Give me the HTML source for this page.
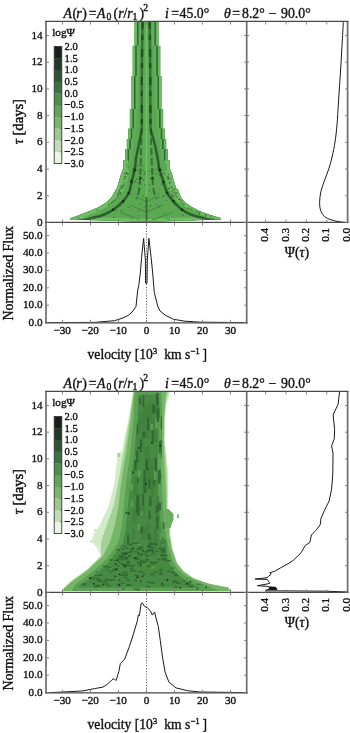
<!DOCTYPE html>
<html><head><meta charset="utf-8"><style>
html,body{margin:0;padding:0;background:#fff;width:350px;height:733px;overflow:hidden}
svg text{fill:#111;font-family:"Liberation Serif", serif}
</style></head><body>
<svg width="350" height="733" viewBox="0 0 350 733" style="display:block;will-change:transform">
<defs><clipPath id="clipmain0"><rect x="46.5" y="21.5" width="200.0" height="201.0"/></clipPath><clipPath id="clipright0"><rect x="246.5" y="21.5" width="101.0" height="201.0"/></clipPath><clipPath id="clipflux0"><rect x="46.5" y="222.5" width="200.0" height="100.30000000000001"/></clipPath><clipPath id="clipmain370"><rect x="46.5" y="391.5" width="200.0" height="201.0"/></clipPath><clipPath id="clipright370"><rect x="246.5" y="391.5" width="101.0" height="201.0"/></clipPath><clipPath id="clipflux370"><rect x="46.5" y="592.5" width="200.0" height="100.30000000000001"/></clipPath></defs>
<rect width="350" height="733" fill="#fff"/>
<g clip-path="url(#clipmain0)">
<clipPath id="envt0"><path d="M134.4,21.0 L134.4,45.7 L132.6,45.7 L132.6,76.0 L131.4,76.0 L131.4,109.0 L129.8,109.0 L129.8,128.5 L128.2,128.5 L128.2,139.0 L126.7,139.0 L126.7,149.0 L125.0,149.0 L125.0,160.6 L123.0,160.6 L123.0,169.0 L121.0,174.3 L119.0,181.1 L117.0,188.0 L115.7,190.0 L111.0,197.9 L106.2,202.6 L98.4,207.3 L89.0,211.2 L78.7,215.2 L70.9,218.0 L70.0,219.5 L146.5,222.0 L221.0,219.5 L220.6,218.0 L211.2,215.2 L200.2,211.2 L192.3,207.3 L185.2,202.6 L181.3,197.9 L178.1,190.0 L176.1,188.0 L173.9,181.1 L172.1,174.3 L170.0,169.0 L170.0,160.6 L168.0,160.6 L168.0,149.0 L166.3,149.0 L166.3,139.0 L164.8,139.0 L164.8,128.5 L163.2,128.5 L163.2,109.0 L161.6,109.0 L161.6,76.0 L160.4,76.0 L160.4,45.7 L158.6,45.7 L158.6,21.0Z"/></clipPath>
<path d="M134.4,21.0 L134.4,45.7 L132.6,45.7 L132.6,76.0 L131.4,76.0 L131.4,109.0 L129.8,109.0 L129.8,128.5 L128.2,128.5 L128.2,139.0 L126.7,139.0 L126.7,149.0 L125.0,149.0 L125.0,160.6 L123.0,160.6 L123.0,169.0 L121.0,174.3 L119.0,181.1 L117.0,188.0 L115.7,190.0 L111.0,197.9 L106.2,202.6 L98.4,207.3 L89.0,211.2 L78.7,215.2 L70.9,218.0 L70.0,219.5 L146.5,222.0 L221.0,219.5 L220.6,218.0 L211.2,215.2 L200.2,211.2 L192.3,207.3 L185.2,202.6 L181.3,197.9 L178.1,190.0 L176.1,188.0 L173.9,181.1 L172.1,174.3 L170.0,169.0 L170.0,160.6 L168.0,160.6 L168.0,149.0 L166.3,149.0 L166.3,139.0 L164.8,139.0 L164.8,128.5 L163.2,128.5 L163.2,109.0 L161.6,109.0 L161.6,76.0 L160.4,76.0 L160.4,45.7 L158.6,45.7 L158.6,21.0Z" fill="#5aa952"/>
<g clip-path="url(#envt0)">
<path d="M163.0,168.0 L165.0,178.0 L169.0,190.0 L178.0,203.0 L195.0,212.0 L215.0,219.0 L230.0,224.0 L240.0,224.0 L240.0,160.0Z" fill="#6bb861" />
<path d="M130.0,168.0 L128.0,178.0 L124.0,190.0 L115.0,203.0 L98.0,212.0 L78.0,219.0 L63.0,224.0 L53.0,224.0 L53.0,160.0Z" fill="#6bb861" />
<clipPath id="wingclip0"><rect x="40" y="160" width="210" height="70"/></clipPath>
<g clip-path="url(#wingclip0)">
<path d="M134.4,21.0 L134.4,45.7 L132.6,45.7 L132.6,76.0 L131.4,76.0 L131.4,109.0 L129.8,109.0 L129.8,128.5 L128.2,128.5 L128.2,139.0 L126.7,139.0 L126.7,149.0 L125.0,149.0 L125.0,160.6 L123.0,160.6 L123.0,169.0 L121.0,174.3 L119.0,181.1 L117.0,188.0 L115.7,190.0 L111.0,197.9 L106.2,202.6 L98.4,207.3 L89.0,211.2 L78.7,215.2 L70.9,218.0 L70.0,219.5 L146.5,222.0 L221.0,219.5 L220.6,218.0 L211.2,215.2 L200.2,211.2 L192.3,207.3 L185.2,202.6 L181.3,197.9 L178.1,190.0 L176.1,188.0 L173.9,181.1 L172.1,174.3 L170.0,169.0 L170.0,160.6 L168.0,160.6 L168.0,149.0 L166.3,149.0 L166.3,139.0 L164.8,139.0 L164.8,128.5 L163.2,128.5 L163.2,109.0 L161.6,109.0 L161.6,76.0 L160.4,76.0 L160.4,45.7 L158.6,45.7 L158.6,21.0Z" fill="none" stroke="#72bd67" stroke-width="6"/>
<path d="M134.4,21.0 L134.4,45.7 L132.6,45.7 L132.6,76.0 L131.4,76.0 L131.4,109.0 L129.8,109.0 L129.8,128.5 L128.2,128.5 L128.2,139.0 L126.7,139.0 L126.7,149.0 L125.0,149.0 L125.0,160.6 L123.0,160.6 L123.0,169.0 L121.0,174.3 L119.0,181.1 L117.0,188.0 L115.7,190.0 L111.0,197.9 L106.2,202.6 L98.4,207.3 L89.0,211.2 L78.7,215.2 L70.9,218.0 L70.0,219.5 L146.5,222.0 L221.0,219.5 L220.6,218.0 L211.2,215.2 L200.2,211.2 L192.3,207.3 L185.2,202.6 L181.3,197.9 L178.1,190.0 L176.1,188.0 L173.9,181.1 L172.1,174.3 L170.0,169.0 L170.0,160.6 L168.0,160.6 L168.0,149.0 L166.3,149.0 L166.3,139.0 L164.8,139.0 L164.8,128.5 L163.2,128.5 L163.2,109.0 L161.6,109.0 L161.6,76.0 L160.4,76.0 L160.4,45.7 L158.6,45.7 L158.6,21.0Z" fill="none" stroke="#3f8c3c" stroke-width="1.2" opacity="0.6"/>
</g>
<rect x="134.4" y="21.0" width="0.6" height="24.7" fill="#4f9a4a"/><rect x="158.0" y="21.0" width="0.6" height="24.7" fill="#4f9a4a"/><rect x="135.0" y="21.0" width="2.0" height="24.7" fill="#6cba62"/><rect x="156.0" y="21.0" width="2.0" height="24.7" fill="#6cba62"/><rect x="137.0" y="21.0" width="1.7" height="24.7" fill="#2f6a31"/><rect x="154.3" y="21.0" width="1.7" height="24.7" fill="#2f6a31"/><rect x="138.7" y="21.0" width="2.3" height="24.7" fill="#62b059"/><rect x="152.0" y="21.0" width="2.3" height="24.7" fill="#62b059"/><rect x="132.6" y="45.7" width="0.6" height="30.3" fill="#4f9a4a"/><rect x="159.8" y="45.7" width="0.6" height="30.3" fill="#4f9a4a"/><rect x="133.2" y="45.7" width="2.0" height="30.3" fill="#6cba62"/><rect x="157.8" y="45.7" width="2.0" height="30.3" fill="#6cba62"/><rect x="135.2" y="45.7" width="1.7" height="30.3" fill="#2f6a31"/><rect x="156.1" y="45.7" width="1.7" height="30.3" fill="#2f6a31"/><rect x="136.9" y="45.7" width="2.3" height="30.3" fill="#62b059"/><rect x="153.8" y="45.7" width="2.3" height="30.3" fill="#62b059"/><rect x="131.4" y="76.0" width="0.6" height="33.0" fill="#4f9a4a"/><rect x="161.0" y="76.0" width="0.6" height="33.0" fill="#4f9a4a"/><rect x="132.0" y="76.0" width="2.0" height="33.0" fill="#6cba62"/><rect x="159.0" y="76.0" width="2.0" height="33.0" fill="#6cba62"/><rect x="134.0" y="76.0" width="1.7" height="33.0" fill="#2f6a31"/><rect x="157.3" y="76.0" width="1.7" height="33.0" fill="#2f6a31"/><rect x="135.7" y="76.0" width="2.3" height="33.0" fill="#62b059"/><rect x="155.0" y="76.0" width="2.3" height="33.0" fill="#62b059"/><rect x="129.8" y="109.0" width="0.6" height="19.5" fill="#4f9a4a"/><rect x="162.6" y="109.0" width="0.6" height="19.5" fill="#4f9a4a"/><rect x="130.4" y="109.0" width="2.0" height="19.5" fill="#6cba62"/><rect x="160.6" y="109.0" width="2.0" height="19.5" fill="#6cba62"/><rect x="132.4" y="109.0" width="1.7" height="19.5" fill="#2f6a31"/><rect x="158.9" y="109.0" width="1.7" height="19.5" fill="#2f6a31"/><rect x="134.1" y="109.0" width="2.3" height="19.5" fill="#62b059"/><rect x="156.6" y="109.0" width="2.3" height="19.5" fill="#62b059"/><rect x="128.2" y="128.5" width="0.6" height="10.5" fill="#4f9a4a"/><rect x="164.2" y="128.5" width="0.6" height="10.5" fill="#4f9a4a"/><rect x="128.8" y="128.5" width="2.0" height="10.5" fill="#6cba62"/><rect x="162.2" y="128.5" width="2.0" height="10.5" fill="#6cba62"/><rect x="130.8" y="128.5" width="1.7" height="10.5" fill="#2f6a31"/><rect x="160.5" y="128.5" width="1.7" height="10.5" fill="#2f6a31"/><rect x="132.5" y="128.5" width="2.3" height="10.5" fill="#62b059"/><rect x="158.2" y="128.5" width="2.3" height="10.5" fill="#62b059"/><rect x="126.7" y="139.0" width="0.6" height="10.0" fill="#4f9a4a"/><rect x="165.7" y="139.0" width="0.6" height="10.0" fill="#4f9a4a"/><rect x="127.3" y="139.0" width="2.0" height="10.0" fill="#6cba62"/><rect x="163.7" y="139.0" width="2.0" height="10.0" fill="#6cba62"/><rect x="129.3" y="139.0" width="1.7" height="10.0" fill="#2f6a31"/><rect x="162.0" y="139.0" width="1.7" height="10.0" fill="#2f6a31"/><rect x="131.0" y="139.0" width="2.3" height="10.0" fill="#62b059"/><rect x="159.7" y="139.0" width="2.3" height="10.0" fill="#62b059"/><rect x="125.0" y="149.0" width="0.6" height="11.6" fill="#4f9a4a"/><rect x="167.4" y="149.0" width="0.6" height="11.6" fill="#4f9a4a"/><rect x="125.6" y="149.0" width="2.0" height="11.6" fill="#6cba62"/><rect x="165.4" y="149.0" width="2.0" height="11.6" fill="#6cba62"/><rect x="127.6" y="149.0" width="1.7" height="11.6" fill="#2f6a31"/><rect x="163.7" y="149.0" width="1.7" height="11.6" fill="#2f6a31"/><rect x="129.3" y="149.0" width="2.3" height="11.6" fill="#62b059"/><rect x="161.4" y="149.0" width="2.3" height="11.6" fill="#62b059"/>
<rect x="142.8" y="21" width="2" height="165" fill="#5fae57" opacity="0.55"/>
<rect x="148.2" y="21" width="2" height="165" fill="#5fae57" opacity="0.55"/>
<rect x="145.7" y="21" width="1.6" height="176" fill="#74c269" opacity="0.9"/>
<rect x="145.6" y="197" width="1.8" height="27" fill="#1d3f1f" opacity="0.6"/>
<path d="M150.60,129.60 C151.28,132.00 153.53,139.27 154.70,144.00 C155.87,148.73 156.78,153.72 157.60,158.00 C158.42,162.28 158.65,165.87 159.60,169.70 C160.55,173.53 162.07,177.18 163.30,181.00 C164.53,184.82 165.32,189.23 167.00,192.60 C168.68,195.97 170.90,198.33 173.40,201.20 C175.90,204.07 178.67,207.42 182.00,209.80 C185.33,212.18 188.73,213.88 193.40,215.50 C198.07,217.12 205.23,218.42 210.00,219.50 C214.77,220.58 220.00,221.58 222.00,222.00" fill="none" stroke="#1d461f" stroke-width="2.5" opacity="0.75"/>
<path d="M149.60,21.00 C149.72,30.00 150.17,60.17 150.30,75.00 C150.43,89.83 150.35,100.90 150.40,110.00 C150.45,119.10 150.57,126.33 150.60,129.60" fill="none" stroke="#1d461f" stroke-width="2.5" opacity="0.55"/>
<path d="M149.60,21.00 C149.72,30.00 150.17,60.17 150.30,75.00 C150.43,89.83 150.35,100.90 150.40,110.00 C150.45,119.10 150.57,126.33 150.60,129.60" fill="none" stroke="#173a19" stroke-width="2.5" opacity="0.6" stroke-dasharray="8,6,5,9"/>
<path d="M141.80,129.60 C141.33,132.00 139.95,139.27 139.00,144.00 C138.05,148.73 136.82,153.72 136.10,158.00 C135.38,162.28 135.42,165.87 134.70,169.70 C133.98,173.53 132.75,177.18 131.80,181.00 C130.85,184.82 130.43,189.23 129.00,192.60 C127.57,195.97 125.83,198.33 123.20,201.20 C120.57,204.07 116.78,207.42 113.20,209.80 C109.62,212.18 106.40,213.88 101.70,215.50 C97.00,217.12 89.95,218.42 85.00,219.50 C80.05,220.58 74.17,221.58 72.00,222.00" fill="none" stroke="#1d461f" stroke-width="2.5" opacity="0.75"/>
<path d="M142.60,21.00 C142.47,30.00 141.93,60.17 141.80,75.00 C141.67,89.83 141.80,100.90 141.80,110.00 C141.80,119.10 141.80,126.33 141.80,129.60" fill="none" stroke="#1d461f" stroke-width="2.5" opacity="0.55"/>
<path d="M142.60,21.00 C142.47,30.00 141.93,60.17 141.80,75.00 C141.67,89.83 141.80,100.90 141.80,110.00 C141.80,119.10 141.80,126.33 141.80,129.60" fill="none" stroke="#173a19" stroke-width="2.5" opacity="0.6" stroke-dasharray="8,6,5,9"/>
<path d="M150.8,128 C151.2,150 152,172 153,185 C153.5,192 155,196 157,199" transform="translate(0,0)" fill="none" stroke="#1f4a21" stroke-width="2" opacity="0.6" stroke-dasharray="7,3"/>
<path d="M141.6,128 C141.2,150 140.5,172 139.8,185 C139.3,192 138,196 136,199" transform="translate(0,0)" fill="none" stroke="#1f4a21" stroke-width="2" opacity="0.6" stroke-dasharray="7,3"/>
<path d="M146.5,202 L136,196 M146.5,202 L157,196 M146.5,212 L130,205 M146.5,212 L163,205 M140,220 L120,212 M153,220 L173,212" transform="translate(0,0)" fill="none" stroke="#2a5c2c" stroke-width="1" opacity="0.45"/>
<path d="M133.5,168.8h2.4v2.4h-2.4zM130.3,180.8h2.4v2.4h-2.4zM127.6,191.8h2.4v2.4h-2.4zM122.0,200.0h2.4v2.4h-2.4zM112.0,208.6h2.4v2.4h-2.4zM158.4,168.8h2.4v2.4h-2.4zM162.1,180.8h2.4v2.4h-2.4zM166.0,191.8h2.4v2.4h-2.4zM172.2,200.0h2.4v2.4h-2.4zM180.8,208.6h2.4v2.4h-2.4zM139.3,176.8h2.4v2.4h-2.4zM151.3,176.8h2.4v2.4h-2.4z" fill="#0f2410" opacity="0.75"/>
<path d="M121.6,185.5h1.4v1.4h-1.4zM125.5,172.3h1.4v1.4h-1.4zM124.2,172.8h1.4v1.4h-1.4zM118.6,190.8h1.4v1.4h-1.4zM117.3,196.5h1.4v1.4h-1.4zM125.2,175.9h1.4v1.4h-1.4zM115.4,198.0h1.4v1.4h-1.4zM119.0,189.0h1.4v1.4h-1.4zM196.3,211.2h1.4v1.4h-1.4zM176.1,196.0h1.4v1.4h-1.4zM110.5,202.7h1.4v1.4h-1.4zM180.8,200.7h1.4v1.4h-1.4zM108.2,204.2h1.4v1.4h-1.4zM174.4,193.8h1.4v1.4h-1.4zM175.3,192.3h1.4v1.4h-1.4zM123.7,181.9h1.4v1.4h-1.4zM169.8,181.7h1.4v1.4h-1.4zM198.9,212.0h1.4v1.4h-1.4zM77.8,217.0h1.4v1.4h-1.4zM170.0,177.9h1.4v1.4h-1.4zM119.5,193.5h1.4v1.4h-1.4zM168.2,173.7h1.4v1.4h-1.4zM171.2,186.8h1.4v1.4h-1.4zM120.4,191.9h1.4v1.4h-1.4zM116.8,192.8h1.4v1.4h-1.4zM183.3,203.7h1.4v1.4h-1.4zM174.0,188.5h1.4v1.4h-1.4zM119.1,192.2h1.4v1.4h-1.4zM118.7,193.7h1.4v1.4h-1.4zM124.3,176.2h1.4v1.4h-1.4zM205.1,214.0h1.4v1.4h-1.4zM173.1,191.6h1.4v1.4h-1.4zM191.4,209.3h1.4v1.4h-1.4zM212.6,217.4h1.4v1.4h-1.4zM123.2,177.2h1.4v1.4h-1.4zM111.4,201.6h1.4v1.4h-1.4zM178.1,198.3h1.4v1.4h-1.4zM168.2,177.0h1.4v1.4h-1.4zM122.7,185.3h1.4v1.4h-1.4zM117.0,194.7h1.4v1.4h-1.4zM198.0,211.8h1.4v1.4h-1.4zM172.3,188.9h1.4v1.4h-1.4zM127.4,173.0h1.4v1.4h-1.4zM118.7,191.2h1.4v1.4h-1.4zM126.2,172.5h1.4v1.4h-1.4zM175.8,195.8h1.4v1.4h-1.4zM126.0,173.4h1.4v1.4h-1.4zM167.0,177.1h1.4v1.4h-1.4zM179.2,198.9h1.4v1.4h-1.4zM195.1,210.7h1.4v1.4h-1.4zM120.7,185.0h1.4v1.4h-1.4zM171.4,186.4h1.4v1.4h-1.4zM108.4,203.2h1.4v1.4h-1.4zM209.9,215.7h1.4v1.4h-1.4zM117.2,196.1h1.4v1.4h-1.4zM123.0,184.3h1.4v1.4h-1.4zM168.7,182.5h1.4v1.4h-1.4zM121.6,187.1h1.4v1.4h-1.4zM187.8,207.4h1.4v1.4h-1.4zM114.8,199.4h1.4v1.4h-1.4zM96.8,209.3h1.4v1.4h-1.4zM119.5,193.7h1.4v1.4h-1.4zM190.2,207.9h1.4v1.4h-1.4zM182.1,203.2h1.4v1.4h-1.4zM204.7,215.0h1.4v1.4h-1.4zM120.0,187.5h1.4v1.4h-1.4zM175.9,192.6h1.4v1.4h-1.4zM113.1,200.0h1.4v1.4h-1.4zM112.9,201.3h1.4v1.4h-1.4zM167.2,175.8h1.4v1.4h-1.4zM143.6,206.3h1.2v1.2h-1.2zM159.1,174.8h1.2v1.2h-1.2zM161.0,183.3h1.2v1.2h-1.2zM130.9,218.4h1.2v1.2h-1.2zM169.1,187.1h1.2v1.2h-1.2zM119.7,204.9h1.2v1.2h-1.2zM132.1,172.0h1.2v1.2h-1.2zM182.4,214.8h1.2v1.2h-1.2zM160.3,173.0h1.2v1.2h-1.2zM168.0,218.9h1.2v1.2h-1.2zM148.9,184.3h1.2v1.2h-1.2zM126.4,172.2h1.2v1.2h-1.2zM166.9,218.4h1.2v1.2h-1.2zM171.8,194.0h1.2v1.2h-1.2zM166.2,188.9h1.2v1.2h-1.2zM115.9,210.4h1.2v1.2h-1.2zM137.0,178.9h1.2v1.2h-1.2zM150.4,178.2h1.2v1.2h-1.2zM142.8,179.3h1.2v1.2h-1.2zM163.5,172.2h1.2v1.2h-1.2zM144.5,184.5h1.2v1.2h-1.2zM171.1,197.1h1.2v1.2h-1.2zM168.0,188.1h1.2v1.2h-1.2zM118.5,193.8h1.2v1.2h-1.2zM129.9,189.2h1.2v1.2h-1.2zM158.2,165.2h1.2v1.2h-1.2zM149.9,204.9h1.2v1.2h-1.2zM163.4,195.5h1.2v1.2h-1.2zM149.0,170.8h1.2v1.2h-1.2zM136.3,178.7h1.2v1.2h-1.2zM162.0,195.9h1.2v1.2h-1.2zM137.9,215.2h1.2v1.2h-1.2zM157.7,193.2h1.2v1.2h-1.2zM148.7,189.9h1.2v1.2h-1.2zM171.4,191.3h1.2v1.2h-1.2zM173.4,203.5h1.2v1.2h-1.2zM113.1,216.8h1.2v1.2h-1.2zM173.0,195.8h1.2v1.2h-1.2zM107.2,211.2h1.2v1.2h-1.2zM144.1,171.7h1.2v1.2h-1.2zM136.4,169.0h1.2v1.2h-1.2zM153.1,169.0h1.2v1.2h-1.2zM180.7,208.1h1.2v1.2h-1.2zM155.7,173.5h1.2v1.2h-1.2zM121.3,201.3h1.2v1.2h-1.2zM198.9,213.6h1.2v1.2h-1.2zM166.7,177.1h1.2v1.2h-1.2zM193.0,219.4h1.2v1.2h-1.2zM143.6,173.9h1.2v1.2h-1.2zM137.3,193.4h1.2v1.2h-1.2zM138.6,175.8h1.2v1.2h-1.2zM108.2,204.7h1.2v1.2h-1.2zM142.8,195.5h1.2v1.2h-1.2zM139.9,166.0h1.2v1.2h-1.2zM165.4,168.5h1.2v1.2h-1.2zM187.9,208.4h1.2v1.2h-1.2zM137.1,170.8h1.2v1.2h-1.2zM157.4,167.2h1.2v1.2h-1.2zM129.3,179.9h1.2v1.2h-1.2zM167.8,188.2h1.2v1.2h-1.2zM121.1,210.0h1.2v1.2h-1.2zM164.3,173.2h1.2v1.2h-1.2zM158.5,196.4h1.2v1.2h-1.2zM128.9,169.9h1.2v1.2h-1.2zM140.3,202.9h1.2v1.2h-1.2zM163.6,169.0h1.2v1.2h-1.2zM165.9,199.9h1.2v1.2h-1.2zM160.6,169.6h1.2v1.2h-1.2zM160.6,168.7h1.2v1.2h-1.2zM138.2,190.0h1.2v1.2h-1.2zM171.9,195.4h1.2v1.2h-1.2zM129.4,179.7h1.2v1.2h-1.2zM131.3,194.0h1.2v1.2h-1.2zM132.8,171.0h1.2v1.2h-1.2zM134.9,167.8h1.2v1.2h-1.2zM137.2,182.2h1.2v1.2h-1.2zM127.7,206.8h1.2v1.2h-1.2zM128.3,192.5h1.2v1.2h-1.2zM123.0,184.1h1.2v1.2h-1.2zM124.4,178.8h1.2v1.2h-1.2zM149.6,205.3h1.2v1.2h-1.2zM93.4,216.4h1.2v1.2h-1.2zM138.2,210.0h1.2v1.2h-1.2zM165.6,192.2h1.2v1.2h-1.2zM180.3,202.8h1.2v1.2h-1.2zM162.6,183.8h1.2v1.2h-1.2zM155.8,203.9h1.2v1.2h-1.2zM138.8,187.3h1.2v1.2h-1.2zM132.1,168.0h1.2v1.2h-1.2zM155.9,168.9h1.2v1.2h-1.2zM131.1,179.1h1.2v1.2h-1.2zM160.0,169.6h1.2v1.2h-1.2zM163.9,212.9h1.2v1.2h-1.2zM134.5,180.5h1.2v1.2h-1.2zM144.2,173.7h1.2v1.2h-1.2zM167.7,179.5h1.2v1.2h-1.2zM152.4,218.5h1.2v1.2h-1.2zM167.6,178.4h1.2v1.2h-1.2zM139.7,182.0h1.2v1.2h-1.2zM141.9,165.1h1.2v1.2h-1.2zM137.3,165.3h1.2v1.2h-1.2zM142.5,169.9h1.2v1.2h-1.2zM127.9,167.3h1.2v1.2h-1.2zM133.8,181.7h1.2v1.2h-1.2zM158.4,206.3h1.2v1.2h-1.2zM174.6,204.4h1.2v1.2h-1.2zM137.8,186.4h1.2v1.2h-1.2z" fill="#1d3f1f" opacity="0.5"/>
</g>
</g>
<rect x="54.2" y="46.50" width="7.6" height="12.00" fill="#171e19"/>
<rect x="54.2" y="58.20" width="7.6" height="12.00" fill="#223726"/>
<rect x="54.2" y="69.90" width="7.6" height="12.00" fill="#2e5233"/>
<rect x="54.2" y="81.60" width="7.6" height="12.00" fill="#3e7043"/>
<rect x="54.2" y="93.30" width="7.6" height="12.00" fill="#4f8d4d"/>
<rect x="54.2" y="105.00" width="7.6" height="12.00" fill="#63a35a"/>
<rect x="54.2" y="116.70" width="7.6" height="12.00" fill="#7bb570"/>
<rect x="54.2" y="128.40" width="7.6" height="12.00" fill="#9ac88e"/>
<rect x="54.2" y="140.10" width="7.6" height="12.00" fill="#bfdcb4"/>
<rect x="54.2" y="151.80" width="7.6" height="12.00" fill="#e9f4e4"/>
<rect x="54.2" y="46.50" width="7.6" height="117.00" fill="none" stroke="#3a3a3a" stroke-width="0.9"/>
<path d="M61.8,58.2h-2M61.8,69.9h-2M61.8,81.6h-2M61.8,93.3h-2M61.8,105.0h-2M61.8,116.7h-2M61.8,128.4h-2M61.8,140.1h-2M61.8,151.8h-2" stroke="#333" stroke-width="0.8" opacity="0.6"/>
<text x="64.6" y="49.9" font-size="10.6" text-anchor="start" style="stroke:#111;stroke-width:0.35;" >2.0</text>
<text x="64.6" y="61.6" font-size="10.6" text-anchor="start" style="stroke:#111;stroke-width:0.35;" >1.5</text>
<text x="64.6" y="73.3" font-size="10.6" text-anchor="start" style="stroke:#111;stroke-width:0.35;" >1.0</text>
<text x="64.6" y="85.0" font-size="10.6" text-anchor="start" style="stroke:#111;stroke-width:0.35;" >0.5</text>
<text x="64.6" y="96.7" font-size="10.6" text-anchor="start" style="stroke:#111;stroke-width:0.35;" >0.0</text>
<text x="64.6" y="108.4" font-size="10.6" text-anchor="start" style="stroke:#111;stroke-width:0.35;" >−0.5</text>
<text x="64.6" y="120.1" font-size="10.6" text-anchor="start" style="stroke:#111;stroke-width:0.35;" >−1.0</text>
<text x="64.6" y="131.8" font-size="10.6" text-anchor="start" style="stroke:#111;stroke-width:0.35;" >−1.5</text>
<text x="64.6" y="143.5" font-size="10.6" text-anchor="start" style="stroke:#111;stroke-width:0.35;" >−2.0</text>
<text x="64.6" y="155.2" font-size="10.6" text-anchor="start" style="stroke:#111;stroke-width:0.35;" >−2.5</text>
<text x="64.6" y="166.9" font-size="10.6" text-anchor="start" style="stroke:#111;stroke-width:0.35;" >−3.0</text>
<text x="52.2" y="35.8" font-size="11.3" text-anchor="start" style="stroke:#111;stroke-width:0.35;" >logΨ</text>
<g clip-path="url(#clipright0)">
<path d="M343.50,20.00 C343.35,22.57 343.08,27.07 342.60,35.40 C342.12,43.73 341.27,59.23 340.60,70.00 C339.93,80.77 339.20,90.83 338.60,100.00 C338.00,109.17 337.60,118.00 337.00,125.00 C336.40,132.00 335.78,136.83 335.00,142.00 C334.22,147.17 333.32,151.57 332.30,156.00 C331.28,160.43 330.25,164.38 328.90,168.60 C327.55,172.82 325.55,177.42 324.20,181.30 C322.85,185.18 321.57,188.37 320.80,191.90 C320.03,195.43 319.63,199.40 319.60,202.50 C319.57,205.60 319.78,208.17 320.60,210.50 C321.42,212.83 322.77,214.95 324.50,216.50 C326.23,218.05 328.75,218.97 331.00,219.80 C333.25,220.63 336.00,221.08 338.00,221.50 C340.00,221.92 341.50,222.13 343.00,222.30 C344.50,222.47 346.33,222.47 347.00,222.50" fill="none" stroke="#1a1a1a" stroke-width="1.0"/>
</g>
<g clip-path="url(#clipflux0)">
<path d="M46.0,322.6 L94.6,322.4 L114.6,320.7 L123.0,317.9 L128.9,315.0 L133.0,311.0 L136.0,306.4 L137.6,291.0 L138.9,284.7 L140.4,272.0 L141.7,256.4 L143.6,238.4 L145.4,260.0 L145.6,283.2 L147.0,283.2 L147.3,260.0 L148.9,238.4 L151.0,256.4 L152.6,272.0 L154.3,292.6 L157.7,306.0 L160.0,311.0 L165.6,315.4 L173.5,319.3 L185.0,321.2 L200.0,322.2 L246.0,322.6" fill="none" stroke="#1a1a1a" stroke-width="1.0" stroke-linejoin="round" />
</g>
<line x1="146.5" y1="222.5" x2="146.5" y2="322.8" stroke="#333" stroke-width="0.8" stroke-dasharray="1.1,1.7"/>
<path d="M46.0,20.9V323.40000000000003M246.7,20.9V323.40000000000003M347.6,20.9V223.1" stroke="#6e6e6e" stroke-width="1.7" fill="none"/>
<path d="M45.2,21.4H348.4M45.2,222.4H348.4M45.2,322.8H247.5" stroke="#484848" stroke-width="1.3" fill="none"/>
<path d="M62.5,21.5v3 M62.5,222.5v-3 M62.5,222.5v3 M62.5,322.8v-3 M90.5,21.5v3 M90.5,222.5v-3 M90.5,222.5v3 M90.5,322.8v-3 M118.5,21.5v3 M118.5,222.5v-3 M118.5,222.5v3 M118.5,322.8v-3 M146.5,21.5v3 M146.5,222.5v-3 M146.5,222.5v3 M146.5,322.8v-3 M174.5,21.5v3 M174.5,222.5v-3 M174.5,222.5v3 M174.5,322.8v-3 M202.5,21.5v3 M202.5,222.5v-3 M202.5,222.5v3 M202.5,322.8v-3 M230.5,21.5v3 M230.5,222.5v-3 M230.5,222.5v3 M230.5,322.8v-3 M46.5,222.5h2.5 M246.5,222.5h-2.5 M246.5,222.5h2.5 M347.5,222.5h-2.5 M46.5,195.8h2.5 M246.5,195.8h-2.5 M246.5,195.8h2.5 M347.5,195.8h-2.5 M46.5,169.1h2.5 M246.5,169.1h-2.5 M246.5,169.1h2.5 M347.5,169.1h-2.5 M46.5,142.3h2.5 M246.5,142.3h-2.5 M246.5,142.3h2.5 M347.5,142.3h-2.5 M46.5,115.6h2.5 M246.5,115.6h-2.5 M246.5,115.6h2.5 M347.5,115.6h-2.5 M46.5,88.9h2.5 M246.5,88.9h-2.5 M246.5,88.9h2.5 M347.5,88.9h-2.5 M46.5,62.2h2.5 M246.5,62.2h-2.5 M246.5,62.2h2.5 M347.5,62.2h-2.5 M46.5,35.5h2.5 M246.5,35.5h-2.5 M246.5,35.5h2.5 M347.5,35.5h-2.5 M46.5,322.6h2.5 M246.5,322.6h-2.5 M46.5,305.2h2.5 M246.5,305.2h-2.5 M46.5,287.8h2.5 M246.5,287.8h-2.5 M46.5,270.4h2.5 M246.5,270.4h-2.5 M46.5,253.0h2.5 M246.5,253.0h-2.5 M46.5,235.6h2.5 M246.5,235.6h-2.5 M326.8,21.5v3 M326.8,222.5v-3 M306.4,21.5v3 M306.4,222.5v-3 M286.0,21.5v3 M286.0,222.5v-3 M265.6,21.5v3 M265.6,222.5v-3" stroke="#777" stroke-width="0.9" fill="none"/>
<text x="42.6" y="225.5" font-size="11.2" text-anchor="end" style="stroke:#111;stroke-width:0.35;" >0</text>
<text x="42.6" y="198.8" font-size="11.2" text-anchor="end" style="stroke:#111;stroke-width:0.35;" >2</text>
<text x="42.6" y="172.1" font-size="11.2" text-anchor="end" style="stroke:#111;stroke-width:0.35;" >4</text>
<text x="42.6" y="145.3" font-size="11.2" text-anchor="end" style="stroke:#111;stroke-width:0.35;" >6</text>
<text x="42.6" y="118.6" font-size="11.2" text-anchor="end" style="stroke:#111;stroke-width:0.35;" >8</text>
<text x="42.6" y="91.9" font-size="11.2" text-anchor="end" style="stroke:#111;stroke-width:0.35;" >10</text>
<text x="42.6" y="65.2" font-size="11.2" text-anchor="end" style="stroke:#111;stroke-width:0.35;" >12</text>
<text x="42.6" y="38.5" font-size="11.2" text-anchor="end" style="stroke:#111;stroke-width:0.35;" >14</text>
<text x="42.6" y="325.6" font-size="11.2" text-anchor="end" style="stroke:#111;stroke-width:0.35;" >0.0</text>
<text x="42.6" y="308.2" font-size="11.2" text-anchor="end" style="stroke:#111;stroke-width:0.35;" >10.0</text>
<text x="42.6" y="290.8" font-size="11.2" text-anchor="end" style="stroke:#111;stroke-width:0.35;" >20.0</text>
<text x="42.6" y="273.4" font-size="11.2" text-anchor="end" style="stroke:#111;stroke-width:0.35;" >30.0</text>
<text x="42.6" y="256.0" font-size="11.2" text-anchor="end" style="stroke:#111;stroke-width:0.35;" >40.0</text>
<text x="42.6" y="238.6" font-size="11.2" text-anchor="end" style="stroke:#111;stroke-width:0.35;" >50.0</text>
<text x="62.2" y="334.1" font-size="11.2" text-anchor="middle" style="stroke:#111;stroke-width:0.35;" >−30</text>
<text x="90.2" y="334.1" font-size="11.2" text-anchor="middle" style="stroke:#111;stroke-width:0.35;" >−20</text>
<text x="118.2" y="334.1" font-size="11.2" text-anchor="middle" style="stroke:#111;stroke-width:0.35;" >−10</text>
<text x="146.5" y="334.1" font-size="11.2" text-anchor="middle" style="stroke:#111;stroke-width:0.35;" >0</text>
<text x="174.5" y="334.1" font-size="11.2" text-anchor="middle" style="stroke:#111;stroke-width:0.35;" >10</text>
<text x="202.5" y="334.1" font-size="11.2" text-anchor="middle" style="stroke:#111;stroke-width:0.35;" >20</text>
<text x="230.5" y="334.1" font-size="11.2" text-anchor="middle" style="stroke:#111;stroke-width:0.35;" >30</text>
<text transform="translate(349.8,234.8) rotate(-90)" font-size="11.2" text-anchor="middle" style="stroke:#111;stroke-width:0.35;">0.0</text>
<text transform="translate(329.4,234.8) rotate(-90)" font-size="11.2" text-anchor="middle" style="stroke:#111;stroke-width:0.35;">0.1</text>
<text transform="translate(309.0,234.8) rotate(-90)" font-size="11.2" text-anchor="middle" style="stroke:#111;stroke-width:0.35;">0.2</text>
<text transform="translate(288.6,234.8) rotate(-90)" font-size="11.2" text-anchor="middle" style="stroke:#111;stroke-width:0.35;">0.3</text>
<text transform="translate(268.2,234.8) rotate(-90)" font-size="11.2" text-anchor="middle" style="stroke:#111;stroke-width:0.35;">0.4</text>
<text transform="translate(23.2,121.7) rotate(-90)" font-size="14.6" text-anchor="middle" style="stroke:#111;stroke-width:0.45;"><tspan style="font-style:italic">τ</tspan> [days]</text>
<text transform="translate(12.5,273.2) rotate(-90)" font-size="13.9" text-anchor="middle" style="stroke:#111;stroke-width:0.35;">Normalized Flux</text>
<text x="297" y="257.3" font-size="13.8" text-anchor="middle" style="stroke:#111;stroke-width:0.35;">Ψ(<tspan style="font-style:italic">τ</tspan>)</text>
<text x="147.3" y="359.2" font-size="13.6" text-anchor="middle" style="stroke:#111;stroke-width:0.35;">velocity [10<tspan dy="-5" font-size="9">3</tspan><tspan dy="5"> km s</tspan><tspan dy="-5" font-size="9">−1</tspan><tspan dy="5"> ]</tspan></text>
<text x="63.5" y="17.5" font-size="13.8" text-anchor="start" style="stroke:#111;stroke-width:0.35;font-style:italic;" >A</text>
<text x="72.6" y="17.5" font-size="13.8" text-anchor="start" style="stroke:#111;stroke-width:0.35;" >(</text>
<text x="76.2" y="17.5" font-size="13.8" text-anchor="start" style="stroke:#111;stroke-width:0.35;font-style:italic;" >r</text>
<text x="82.2" y="17.5" font-size="13.8" text-anchor="start" style="stroke:#111;stroke-width:0.35;" >)</text>
<text x="88.8" y="17.5" font-size="13.8" text-anchor="start" style="stroke:#111;stroke-width:0.35;" >=</text>
<text x="97.0" y="17.5" font-size="13.8" text-anchor="start" style="stroke:#111;stroke-width:0.35;font-style:italic;" >A</text>
<text x="106.6" y="19.7" font-size="9.8" text-anchor="start" style="stroke:#111;stroke-width:0.35;" >0</text>
<text x="113.6" y="17.5" font-size="13.8" text-anchor="start" style="stroke:#111;stroke-width:0.35;" >(</text>
<text x="118.2" y="17.5" font-size="13.8" text-anchor="start" style="stroke:#111;stroke-width:0.35;font-style:italic;" >r</text>
<text x="123.4" y="17.5" font-size="13.8" text-anchor="start" style="stroke:#111;stroke-width:0.35;" >/</text>
<text x="127.2" y="17.5" font-size="13.8" text-anchor="start" style="stroke:#111;stroke-width:0.35;font-style:italic;" >r</text>
<text x="132.6" y="19.7" font-size="9.8" text-anchor="start" style="stroke:#111;stroke-width:0.35;" >1</text>
<text x="139.4" y="17.5" font-size="13.8" text-anchor="start" style="stroke:#111;stroke-width:0.35;" >)</text>
<text x="143.2" y="11.3" font-size="9.8" text-anchor="start" style="stroke:#111;stroke-width:0.35;" >2</text>
<text x="165.0" y="17.5" font-size="13.8" text-anchor="start" style="stroke:#111;stroke-width:0.35;font-style:italic;" >i</text>
<text x="171.2" y="17.5" font-size="13.8" text-anchor="start" style="stroke:#111;stroke-width:0.35;" >=</text>
<text x="179.6" y="17.5" font-size="13.8" text-anchor="start" style="stroke:#111;stroke-width:0.35;" >45.0°</text>
<text x="224.0" y="17.5" font-size="13.8" text-anchor="start" style="stroke:#111;stroke-width:0.35;font-style:italic;" >θ</text>
<text x="232.2" y="17.5" font-size="13.8" text-anchor="start" style="stroke:#111;stroke-width:0.35;" >=</text>
<text x="242.0" y="17.5" font-size="13.8" text-anchor="start" style="stroke:#111;stroke-width:0.35;" >8.2°</text>
<text x="268.6" y="17.5" font-size="13.8" text-anchor="start" style="stroke:#111;stroke-width:0.35;" >−</text>
<text x="281.0" y="17.5" font-size="13.8" text-anchor="start" style="stroke:#111;stroke-width:0.35;" >90.0°</text>
<g clip-path="url(#clipmain370)">
<path d="M132.8,391.0 L132.8,393.0 L132.5,393.0 L132.5,395.0 L132.2,395.0 L132.2,397.0 L131.9,397.0 L131.9,399.0 L131.5,399.0 L131.5,401.0 L131.2,401.0 L131.2,403.0 L130.9,403.0 L130.9,405.0 L130.5,405.0 L130.5,407.0 L130.2,407.0 L130.2,409.0 L129.9,409.0 L129.9,411.0 L129.6,411.0 L129.6,413.0 L129.2,413.0 L129.2,415.0 L128.9,415.0 L128.9,417.0 L128.6,417.0 L128.6,419.0 L128.2,419.0 L128.2,421.0 L127.8,421.0 L127.8,423.0 L127.3,423.0 L127.3,425.0 L126.9,425.0 L126.9,427.0 L126.5,427.0 L126.5,429.0 L126.1,429.0 L126.1,431.0 L125.7,431.0 L125.7,433.0 L125.3,433.0 L125.3,435.0 L124.9,435.0 L124.9,437.0 L124.5,437.0 L124.5,439.0 L124.1,439.0 L124.1,441.0 L123.7,441.0 L123.7,443.0 L123.3,443.0 L123.3,445.0 L122.9,445.0 L122.9,447.0 L122.5,447.0 L122.5,449.0 L122.1,449.0 L122.1,451.0 L120.5,451.0 L120.5,453.0 L118.5,453.0 L118.5,455.0 L117.4,455.0 L117.4,457.0 L117.2,457.0 L117.2,459.0 L116.9,459.0 L116.9,461.0 L116.7,461.0 L116.7,463.0 L116.5,463.0 L116.5,465.0 L116.3,465.0 L116.3,467.0 L116.1,467.0 L116.1,469.0 L115.8,469.0 L115.8,471.0 L115.6,471.0 L115.6,473.0 L115.4,473.0 L115.4,475.0 L115.2,475.0 L115.2,477.0 L115.0,477.0 L115.0,479.0 L114.7,479.0 L114.7,481.0 L114.5,481.0 L114.5,483.0 L114.2,483.0 L114.2,485.0 L113.7,485.0 L113.7,487.0 L113.2,487.0 L113.2,489.0 L112.7,489.0 L112.7,491.0 L112.2,491.0 L112.2,493.0 L111.7,493.0 L111.7,495.0 L111.2,495.0 L111.2,497.0 L110.7,497.0 L110.7,499.0 L110.2,499.0 L110.2,501.0 L109.7,501.0 L109.7,503.0 L109.2,503.0 L109.2,505.0 L108.5,505.0 L108.5,507.0 L107.6,507.0 L107.6,509.0 L106.7,509.0 L106.7,511.0 L105.8,511.0 L105.8,513.0 L104.9,513.0 L104.9,515.0 L104.0,515.0 L104.0,517.0 L103.1,517.0 L103.1,519.0 L102.2,519.0 L102.2,521.0 L101.3,521.0 L101.3,523.0 L100.4,523.0 L100.4,525.0 L99.5,525.0 L99.5,527.0 L98.2,527.0 L98.2,529.0 L96.8,529.0 L96.8,531.0 L95.2,531.0 L95.2,533.0 L93.8,533.0 L93.8,535.0 L92.9,535.0 L92.9,537.0 L92.6,537.0 L92.6,539.0 L92.3,539.0 L92.3,541.0 L92.0,541.0 L92.0,542.0 L97.0,548.0 L101.0,556.0 L86.0,570.0 L70.0,581.4 L63.0,588.6 L62.0,591.0 L231.0,591.0 L228.6,587.6 L210.3,584.1 L194.3,578.4 L184.0,571.6 L177.1,562.4 L172.6,548.7 L170.5,535.0 L170.5,533.0 L170.4,533.0 L170.4,531.0 L170.4,531.0 L170.4,529.0 L170.3,529.0 L170.3,527.0 L169.9,527.0 L169.9,525.0 L169.6,525.0 L169.6,523.0 L169.2,523.0 L169.2,521.0 L168.9,521.0 L168.9,519.0 L168.5,519.0 L168.5,517.0 L168.2,517.0 L168.2,515.0 L168.0,515.0 L168.0,513.0 L167.9,513.0 L167.9,511.0 L167.8,511.0 L167.8,509.0 L167.8,509.0 L167.8,507.0 L167.9,507.0 L167.9,505.0 L167.9,505.0 L167.9,503.0 L168.0,503.0 L168.0,501.0 L168.0,501.0 L168.0,499.0 L168.1,499.0 L168.1,497.0 L168.1,497.0 L168.1,495.0 L168.2,495.0 L168.2,493.0 L168.2,493.0 L168.2,491.0 L168.2,491.0 L168.2,489.0 L168.2,489.0 L168.2,487.0 L168.2,487.0 L168.2,485.0 L168.2,485.0 L168.2,483.0 L168.2,483.0 L168.2,481.0 L168.2,481.0 L168.2,479.0 L168.2,479.0 L168.2,477.0 L168.2,477.0 L168.2,475.0 L168.2,475.0 L168.2,473.0 L168.2,473.0 L168.2,471.0 L168.0,471.0 L168.0,469.0 L167.8,469.0 L167.8,467.0 L167.6,467.0 L167.6,465.0 L167.3,465.0 L167.3,463.0 L167.1,463.0 L167.1,461.0 L166.9,461.0 L166.9,459.0 L166.7,459.0 L166.7,457.0 L166.5,457.0 L166.5,455.0 L166.3,455.0 L166.3,453.0 L166.1,453.0 L166.1,451.0 L165.9,451.0 L165.9,449.0 L165.7,449.0 L165.7,447.0 L165.4,447.0 L165.4,445.0 L165.2,445.0 L165.2,443.0 L165.0,443.0 L165.0,441.0 L164.8,441.0 L164.8,439.0 L164.8,439.0 L164.8,437.0 L164.9,437.0 L164.9,435.0 L164.9,435.0 L164.9,433.0 L165.0,433.0 L165.0,431.0 L165.0,431.0 L165.0,429.0 L165.1,429.0 L165.1,427.0 L165.1,427.0 L165.1,425.0 L165.2,425.0 L165.2,423.0 L165.2,423.0 L165.2,421.0 L165.3,421.0 L165.3,419.0 L165.3,419.0 L165.3,417.0 L165.5,417.0 L165.5,415.0 L165.6,415.0 L165.6,413.0 L165.8,413.0 L165.8,411.0 L166.0,411.0 L166.0,409.0 L166.1,409.0 L166.1,407.0 L166.3,407.0 L166.3,405.0 L166.7,405.0 L166.7,403.0 L167.3,403.0 L167.3,401.0 L167.9,401.0 L167.9,399.0 L168.6,399.0 L168.6,397.0 L169.2,397.0 L169.2,395.0 L169.8,395.0 L169.8,393.0 L170.4,393.0 L170.4,391.0Z" fill="#d3ebc9" />
<path d="M133.4,391.0 L133.4,393.0 L133.1,393.0 L133.1,395.0 L132.8,395.0 L132.8,397.0 L132.5,397.0 L132.5,399.0 L132.2,399.0 L132.2,401.0 L131.9,401.0 L131.9,403.0 L131.6,403.0 L131.6,405.0 L131.3,405.0 L131.3,407.0 L131.0,407.0 L131.0,409.0 L130.7,409.0 L130.7,411.0 L130.4,411.0 L130.4,413.0 L130.2,413.0 L130.2,415.0 L129.9,415.0 L129.9,417.0 L129.6,417.0 L129.6,419.0 L129.2,419.0 L129.2,421.0 L128.9,421.0 L128.9,423.0 L128.5,423.0 L128.5,425.0 L128.2,425.0 L128.2,427.0 L127.9,427.0 L127.9,429.0 L127.5,429.0 L127.5,431.0 L127.2,431.0 L127.2,433.0 L126.8,433.0 L126.8,435.0 L126.5,435.0 L126.5,437.0 L126.1,437.0 L126.1,439.0 L125.8,439.0 L125.8,441.0 L125.5,441.0 L125.5,443.0 L125.1,443.0 L125.1,445.0 L124.8,445.0 L124.8,447.0 L124.4,447.0 L124.4,449.0 L124.1,449.0 L124.1,451.0 L123.7,451.0 L123.7,453.0 L123.4,453.0 L123.4,455.0 L123.0,455.0 L123.0,457.0 L122.6,457.0 L122.6,459.0 L122.2,459.0 L122.2,461.0 L121.9,461.0 L121.9,463.0 L121.5,463.0 L121.5,465.0 L121.1,465.0 L121.1,467.0 L120.8,467.0 L120.8,469.0 L120.4,469.0 L120.4,471.0 L120.0,471.0 L120.0,473.0 L119.7,473.0 L119.7,475.0 L119.3,475.0 L119.3,477.0 L118.9,477.0 L118.9,479.0 L118.6,479.0 L118.6,481.0 L118.2,481.0 L118.2,483.0 L117.8,483.0 L117.8,485.0 L117.5,485.0 L117.5,487.0 L117.1,487.0 L117.1,489.0 L116.7,489.0 L116.7,491.0 L116.4,491.0 L116.4,493.0 L116.0,493.0 L116.0,495.0 L115.6,495.0 L115.6,497.0 L115.3,497.0 L115.3,499.0 L114.9,499.0 L114.9,501.0 L114.5,501.0 L114.5,503.0 L114.2,503.0 L114.2,505.0 L113.6,505.0 L113.6,507.0 L112.9,507.0 L112.9,509.0 L112.2,509.0 L112.2,511.0 L111.5,511.0 L111.5,513.0 L110.7,513.0 L110.7,515.0 L110.0,515.0 L110.0,517.0 L109.3,517.0 L109.3,519.0 L108.5,519.0 L108.5,521.0 L107.8,521.0 L107.8,523.0 L107.1,523.0 L107.1,525.0 L106.4,525.0 L106.4,527.0 L105.7,527.0 L105.7,529.0 L105.0,529.0 L105.0,531.0 L104.3,531.0 L104.3,533.0 L103.7,533.0 L103.7,535.0 L103.0,535.0 L103.0,537.0 L102.3,537.0 L102.3,539.0 L101.7,539.0 L101.7,541.0 L101.0,541.0 L101.0,542.0 L101.0,556.0 L87.0,570.0 L71.0,581.4 L63.5,588.6 L62.5,591.0 L230.5,591.0 L228.2,587.6 L209.9,584.1 L193.9,578.4 L183.6,571.6 L176.7,562.4 L172.2,548.7 L170.0,535.0 L170.0,533.0 L169.9,533.0 L169.9,531.0 L169.9,531.0 L169.9,529.0 L169.8,529.0 L169.8,527.0 L169.4,527.0 L169.4,525.0 L169.1,525.0 L169.1,523.0 L168.7,523.0 L168.7,521.0 L168.4,521.0 L168.4,519.0 L168.0,519.0 L168.0,517.0 L167.7,517.0 L167.7,515.0 L167.4,515.0 L167.4,513.0 L167.3,513.0 L167.3,511.0 L167.2,511.0 L167.2,509.0 L167.2,509.0 L167.2,507.0 L167.2,507.0 L167.2,505.0 L167.3,505.0 L167.3,503.0 L167.3,503.0 L167.3,501.0 L167.3,501.0 L167.3,499.0 L167.3,499.0 L167.3,497.0 L167.4,497.0 L167.4,495.0 L167.4,495.0 L167.4,493.0 L167.4,493.0 L167.4,491.0 L167.3,491.0 L167.3,489.0 L167.3,489.0 L167.3,487.0 L167.3,487.0 L167.3,485.0 L167.2,485.0 L167.2,483.0 L167.2,483.0 L167.2,481.0 L167.1,481.0 L167.1,479.0 L167.1,479.0 L167.1,477.0 L167.1,477.0 L167.1,475.0 L167.0,475.0 L167.0,473.0 L167.0,473.0 L167.0,471.0 L166.8,471.0 L166.8,469.0 L166.7,469.0 L166.7,467.0 L166.5,467.0 L166.5,465.0 L166.3,465.0 L166.3,463.0 L166.1,463.0 L166.1,461.0 L165.9,461.0 L165.9,459.0 L165.8,459.0 L165.8,457.0 L165.6,457.0 L165.6,455.0 L165.4,455.0 L165.4,453.0 L165.2,453.0 L165.2,451.0 L165.1,451.0 L165.1,449.0 L164.9,449.0 L164.9,447.0 L164.7,447.0 L164.7,445.0 L164.5,445.0 L164.5,443.0 L164.4,443.0 L164.4,441.0 L164.2,441.0 L164.2,439.0 L164.2,439.0 L164.2,437.0 L164.3,437.0 L164.3,435.0 L164.3,435.0 L164.3,433.0 L164.3,433.0 L164.3,431.0 L164.4,431.0 L164.4,429.0 L164.4,429.0 L164.4,427.0 L164.5,427.0 L164.5,425.0 L164.5,425.0 L164.5,423.0 L164.5,423.0 L164.5,421.0 L164.6,421.0 L164.6,419.0 L164.6,419.0 L164.6,417.0 L164.7,417.0 L164.7,415.0 L164.9,415.0 L164.9,413.0 L165.0,413.0 L165.0,411.0 L165.2,411.0 L165.2,409.0 L165.3,409.0 L165.3,407.0 L165.4,407.0 L165.4,405.0 L165.7,405.0 L165.7,403.0 L166.1,403.0 L166.1,401.0 L166.6,401.0 L166.6,399.0 L167.0,399.0 L167.0,397.0 L167.4,397.0 L167.4,395.0 L167.9,395.0 L167.9,393.0 L168.3,393.0 L168.3,391.0Z" fill="#a3d394" />
<path d="M133.9,391.0 L133.9,393.0 L133.6,393.0 L133.6,395.0 L133.4,395.0 L133.4,397.0 L133.2,397.0 L133.2,399.0 L132.9,399.0 L132.9,401.0 L132.7,401.0 L132.7,403.0 L132.4,403.0 L132.4,405.0 L132.2,405.0 L132.2,407.0 L132.0,407.0 L132.0,409.0 L131.7,409.0 L131.7,411.0 L131.5,411.0 L131.5,413.0 L131.3,413.0 L131.3,415.0 L131.0,415.0 L131.0,417.0 L130.8,417.0 L130.8,419.0 L130.5,419.0 L130.5,421.0 L130.2,421.0 L130.2,423.0 L130.0,423.0 L130.0,425.0 L129.7,425.0 L129.7,427.0 L129.4,427.0 L129.4,429.0 L129.2,429.0 L129.2,431.0 L128.9,431.0 L128.9,433.0 L128.6,433.0 L128.6,435.0 L128.4,435.0 L128.4,437.0 L128.1,437.0 L128.1,439.0 L127.8,439.0 L127.8,441.0 L127.5,441.0 L127.5,443.0 L127.3,443.0 L127.3,445.0 L127.0,445.0 L127.0,447.0 L126.7,447.0 L126.7,449.0 L126.5,449.0 L126.5,451.0 L126.2,451.0 L126.2,453.0 L125.8,453.0 L125.8,455.0 L125.5,455.0 L125.5,457.0 L125.2,457.0 L125.2,459.0 L124.8,459.0 L124.8,461.0 L124.5,461.0 L124.5,463.0 L124.2,463.0 L124.2,465.0 L123.8,465.0 L123.8,467.0 L123.5,467.0 L123.5,469.0 L123.2,469.0 L123.2,471.0 L122.8,471.0 L122.8,473.0 L122.5,473.0 L122.5,475.0 L122.2,475.0 L122.2,477.0 L121.8,477.0 L121.8,479.0 L121.5,479.0 L121.5,481.0 L121.2,481.0 L121.2,483.0 L120.9,483.0 L120.9,485.0 L120.7,485.0 L120.7,487.0 L120.5,487.0 L120.5,489.0 L120.3,489.0 L120.3,491.0 L120.1,491.0 L120.1,493.0 L119.8,493.0 L119.8,495.0 L119.6,495.0 L119.6,497.0 L119.4,497.0 L119.4,499.0 L119.2,499.0 L119.2,501.0 L119.0,501.0 L119.0,503.0 L118.8,503.0 L118.8,505.0 L118.5,505.0 L118.5,507.0 L118.1,507.0 L118.1,509.0 L117.7,509.0 L117.7,511.0 L117.3,511.0 L117.3,513.0 L116.9,513.0 L116.9,515.0 L116.6,515.0 L116.6,517.0 L116.2,517.0 L116.2,519.0 L115.8,519.0 L115.8,521.0 L115.4,521.0 L115.4,523.0 L115.0,523.0 L115.0,525.0 L114.6,525.0 L114.6,527.0 L114.1,527.0 L114.1,529.0 L113.5,529.0 L113.5,531.0 L112.9,531.0 L112.9,533.0 L112.3,533.0 L112.3,535.0 L111.8,535.0 L111.8,537.0 L111.2,537.0 L111.2,539.0 L110.6,539.0 L110.6,541.0 L110.0,541.0 L110.0,542.0 L103.0,556.0 L88.0,570.0 L72.0,581.4 L64.0,588.6 L63.0,591.0 L230.0,591.0 L227.8,587.6 L209.5,584.1 L193.5,578.4 L183.2,571.6 L176.3,562.4 L171.8,548.7 L169.0,535.0 L169.0,533.0 L169.0,533.0 L169.0,531.0 L169.0,531.0 L169.0,529.0 L169.0,529.0 L169.0,527.0 L168.7,527.0 L168.7,525.0 L168.4,525.0 L168.4,523.0 L168.1,523.0 L168.1,521.0 L167.8,521.0 L167.8,519.0 L167.5,519.0 L167.5,517.0 L167.2,517.0 L167.2,515.0 L166.9,515.0 L166.9,513.0 L166.7,513.0 L166.7,511.0 L166.5,511.0 L166.5,509.0 L166.5,509.0 L166.5,507.0 L166.4,507.0 L166.4,505.0 L166.3,505.0 L166.3,503.0 L166.3,503.0 L166.3,501.0 L166.2,501.0 L166.2,499.0 L166.1,499.0 L166.1,497.0 L166.1,497.0 L166.1,495.0 L166.0,495.0 L166.0,493.0 L165.9,493.0 L165.9,491.0 L165.8,491.0 L165.8,489.0 L165.7,489.0 L165.7,487.0 L165.6,487.0 L165.6,485.0 L165.5,485.0 L165.5,483.0 L165.5,483.0 L165.5,481.0 L165.4,481.0 L165.4,479.0 L165.3,479.0 L165.3,477.0 L165.2,477.0 L165.2,475.0 L165.1,475.0 L165.1,473.0 L165.0,473.0 L165.0,471.0 L164.9,471.0 L164.9,469.0 L164.8,469.0 L164.8,467.0 L164.7,467.0 L164.7,465.0 L164.6,465.0 L164.6,463.0 L164.5,463.0 L164.5,461.0 L164.4,461.0 L164.4,459.0 L164.3,459.0 L164.3,457.0 L164.2,457.0 L164.2,455.0 L164.2,455.0 L164.2,453.0 L164.1,453.0 L164.1,451.0 L164.0,451.0 L164.0,449.0 L163.9,449.0 L163.9,447.0 L163.8,447.0 L163.8,445.0 L163.7,445.0 L163.7,443.0 L163.6,443.0 L163.6,441.0 L163.5,441.0 L163.5,439.0 L163.5,439.0 L163.5,437.0 L163.6,437.0 L163.6,435.0 L163.6,435.0 L163.6,433.0 L163.7,433.0 L163.7,431.0 L163.7,431.0 L163.7,429.0 L163.8,429.0 L163.8,427.0 L163.8,427.0 L163.8,425.0 L163.9,425.0 L163.9,423.0 L163.9,423.0 L163.9,421.0 L164.0,421.0 L164.0,419.0 L164.0,419.0 L164.0,417.0 L164.2,417.0 L164.2,415.0 L164.3,415.0 L164.3,413.0 L164.5,413.0 L164.5,411.0 L164.6,411.0 L164.6,409.0 L164.8,409.0 L164.8,407.0 L164.9,407.0 L164.9,405.0 L165.1,405.0 L165.1,403.0 L165.3,403.0 L165.3,401.0 L165.5,401.0 L165.5,399.0 L165.7,399.0 L165.7,397.0 L165.9,397.0 L165.9,395.0 L166.1,395.0 L166.1,393.0 L166.3,393.0 L166.3,391.0Z" fill="#74b666" />
<clipPath id="envb370"><path d="M135.0,391.0 L135.0,393.0 L134.9,393.0 L134.9,395.0 L134.8,395.0 L134.8,397.0 L134.7,397.0 L134.7,399.0 L134.7,399.0 L134.7,401.0 L134.6,401.0 L134.6,403.0 L134.5,403.0 L134.5,405.0 L134.4,405.0 L134.4,407.0 L134.4,407.0 L134.4,409.0 L134.3,409.0 L134.3,411.0 L134.2,411.0 L134.2,413.0 L134.1,413.0 L134.1,415.0 L134.1,415.0 L134.1,417.0 L134.0,417.0 L134.0,419.0 L133.8,419.0 L133.8,421.0 L133.6,421.0 L133.6,423.0 L133.4,423.0 L133.4,425.0 L133.2,425.0 L133.2,427.0 L133.0,427.0 L133.0,429.0 L132.8,429.0 L132.8,431.0 L132.6,431.0 L132.6,433.0 L132.4,433.0 L132.4,435.0 L132.2,435.0 L132.2,437.0 L132.0,437.0 L132.0,439.0 L131.8,439.0 L131.8,441.0 L131.6,441.0 L131.6,443.0 L131.4,443.0 L131.4,445.0 L131.2,445.0 L131.2,447.0 L131.0,447.0 L131.0,449.0 L130.8,449.0 L130.8,451.0 L130.6,451.0 L130.6,453.0 L130.3,453.0 L130.3,455.0 L130.1,455.0 L130.1,457.0 L129.8,457.0 L129.8,459.0 L129.5,459.0 L129.5,461.0 L129.2,461.0 L129.2,463.0 L129.0,463.0 L129.0,465.0 L128.7,465.0 L128.7,467.0 L128.4,467.0 L128.4,469.0 L128.2,469.0 L128.2,471.0 L127.9,471.0 L127.9,473.0 L127.6,473.0 L127.6,475.0 L127.3,475.0 L127.3,477.0 L127.1,477.0 L127.1,479.0 L126.8,479.0 L126.8,481.0 L126.5,481.0 L126.5,483.0 L126.3,483.0 L126.3,485.0 L126.1,485.0 L126.1,487.0 L125.9,487.0 L125.9,489.0 L125.7,489.0 L125.7,491.0 L125.5,491.0 L125.5,493.0 L125.3,493.0 L125.3,495.0 L125.1,495.0 L125.1,497.0 L124.9,497.0 L124.9,499.0 L124.7,499.0 L124.7,501.0 L124.5,501.0 L124.5,503.0 L124.3,503.0 L124.3,505.0 L124.1,505.0 L124.1,507.0 L123.9,507.0 L123.9,509.0 L123.7,509.0 L123.7,511.0 L123.5,511.0 L123.5,513.0 L123.3,513.0 L123.3,515.0 L123.1,515.0 L123.1,517.0 L122.9,517.0 L122.9,519.0 L122.7,519.0 L122.7,521.0 L122.5,521.0 L122.5,523.0 L122.3,523.0 L122.3,525.0 L122.1,525.0 L122.1,527.0 L121.8,527.0 L121.8,529.0 L121.3,529.0 L121.3,531.0 L120.9,531.0 L120.9,533.0 L120.5,533.0 L120.5,535.0 L120.0,535.0 L120.0,537.0 L119.6,537.0 L119.6,539.0 L119.1,539.0 L119.1,541.0 L118.7,541.0 L118.7,542.0 L113.0,551.0 L107.0,559.0 L97.0,568.0 L86.0,577.0 L76.0,584.0 L72.0,591.0 L218.0,591.0 L210.0,587.0 L197.0,582.0 L185.0,576.0 L177.0,569.0 L172.0,560.0 L169.0,550.0 L167.0,542.0 L167.0,541.0 L166.7,541.0 L166.7,539.0 L166.3,539.0 L166.3,537.0 L166.0,537.0 L166.0,535.0 L165.7,535.0 L165.7,533.0 L165.3,533.0 L165.3,531.0 L165.0,531.0 L165.0,529.0 L164.8,529.0 L164.8,527.0 L164.6,527.0 L164.6,525.0 L164.4,525.0 L164.4,523.0 L164.2,523.0 L164.2,521.0 L164.0,521.0 L164.0,519.0 L163.8,519.0 L163.8,517.0 L163.6,517.0 L163.6,515.0 L163.4,515.0 L163.4,513.0 L163.2,513.0 L163.2,511.0 L163.0,511.0 L163.0,509.0 L162.9,509.0 L162.9,507.0 L162.8,507.0 L162.8,505.0 L162.6,505.0 L162.6,503.0 L162.5,503.0 L162.5,501.0 L162.4,501.0 L162.4,499.0 L162.2,499.0 L162.2,497.0 L162.1,497.0 L162.1,495.0 L162.0,495.0 L162.0,493.0 L161.9,493.0 L161.9,491.0 L161.8,491.0 L161.8,489.0 L161.7,489.0 L161.7,487.0 L161.6,487.0 L161.6,485.0 L161.5,485.0 L161.5,483.0 L161.5,483.0 L161.5,481.0 L161.4,481.0 L161.4,479.0 L161.3,479.0 L161.3,477.0 L161.2,477.0 L161.2,475.0 L161.1,475.0 L161.1,473.0 L161.0,473.0 L161.0,471.0 L161.1,471.0 L161.1,469.0 L161.1,469.0 L161.1,467.0 L161.2,467.0 L161.2,465.0 L161.2,465.0 L161.2,463.0 L161.3,463.0 L161.3,461.0 L161.4,461.0 L161.4,459.0 L161.4,459.0 L161.4,457.0 L161.5,457.0 L161.5,455.0 L161.6,455.0 L161.6,453.0 L161.6,453.0 L161.6,451.0 L161.7,451.0 L161.7,449.0 L161.8,449.0 L161.8,447.0 L161.8,447.0 L161.8,445.0 L161.9,445.0 L161.9,443.0 L161.9,443.0 L161.9,441.0 L162.0,441.0 L162.0,439.0 L162.0,439.0 L162.0,437.0 L162.0,437.0 L162.0,435.0 L162.0,435.0 L162.0,433.0 L162.0,433.0 L162.0,431.0 L162.0,431.0 L162.0,429.0 L162.0,429.0 L162.0,427.0 L162.0,427.0 L162.0,425.0 L162.0,425.0 L162.0,423.0 L162.0,423.0 L162.0,421.0 L162.0,421.0 L162.0,419.0 L162.0,419.0 L162.0,417.0 L161.9,417.0 L161.9,415.0 L161.9,415.0 L161.9,413.0 L161.8,413.0 L161.8,411.0 L161.7,411.0 L161.7,409.0 L161.6,409.0 L161.6,407.0 L161.6,407.0 L161.6,405.0 L161.5,405.0 L161.5,403.0 L161.4,403.0 L161.4,401.0 L161.3,401.0 L161.3,399.0 L161.3,399.0 L161.3,397.0 L161.2,397.0 L161.2,395.0 L161.1,395.0 L161.1,393.0 L161.0,393.0 L161.0,391.0Z"/></clipPath>
<path d="M135.0,391.0 L135.0,393.0 L134.9,393.0 L134.9,395.0 L134.8,395.0 L134.8,397.0 L134.7,397.0 L134.7,399.0 L134.7,399.0 L134.7,401.0 L134.6,401.0 L134.6,403.0 L134.5,403.0 L134.5,405.0 L134.4,405.0 L134.4,407.0 L134.4,407.0 L134.4,409.0 L134.3,409.0 L134.3,411.0 L134.2,411.0 L134.2,413.0 L134.1,413.0 L134.1,415.0 L134.1,415.0 L134.1,417.0 L134.0,417.0 L134.0,419.0 L133.8,419.0 L133.8,421.0 L133.6,421.0 L133.6,423.0 L133.4,423.0 L133.4,425.0 L133.2,425.0 L133.2,427.0 L133.0,427.0 L133.0,429.0 L132.8,429.0 L132.8,431.0 L132.6,431.0 L132.6,433.0 L132.4,433.0 L132.4,435.0 L132.2,435.0 L132.2,437.0 L132.0,437.0 L132.0,439.0 L131.8,439.0 L131.8,441.0 L131.6,441.0 L131.6,443.0 L131.4,443.0 L131.4,445.0 L131.2,445.0 L131.2,447.0 L131.0,447.0 L131.0,449.0 L130.8,449.0 L130.8,451.0 L130.6,451.0 L130.6,453.0 L130.3,453.0 L130.3,455.0 L130.1,455.0 L130.1,457.0 L129.8,457.0 L129.8,459.0 L129.5,459.0 L129.5,461.0 L129.2,461.0 L129.2,463.0 L129.0,463.0 L129.0,465.0 L128.7,465.0 L128.7,467.0 L128.4,467.0 L128.4,469.0 L128.2,469.0 L128.2,471.0 L127.9,471.0 L127.9,473.0 L127.6,473.0 L127.6,475.0 L127.3,475.0 L127.3,477.0 L127.1,477.0 L127.1,479.0 L126.8,479.0 L126.8,481.0 L126.5,481.0 L126.5,483.0 L126.3,483.0 L126.3,485.0 L126.1,485.0 L126.1,487.0 L125.9,487.0 L125.9,489.0 L125.7,489.0 L125.7,491.0 L125.5,491.0 L125.5,493.0 L125.3,493.0 L125.3,495.0 L125.1,495.0 L125.1,497.0 L124.9,497.0 L124.9,499.0 L124.7,499.0 L124.7,501.0 L124.5,501.0 L124.5,503.0 L124.3,503.0 L124.3,505.0 L124.1,505.0 L124.1,507.0 L123.9,507.0 L123.9,509.0 L123.7,509.0 L123.7,511.0 L123.5,511.0 L123.5,513.0 L123.3,513.0 L123.3,515.0 L123.1,515.0 L123.1,517.0 L122.9,517.0 L122.9,519.0 L122.7,519.0 L122.7,521.0 L122.5,521.0 L122.5,523.0 L122.3,523.0 L122.3,525.0 L122.1,525.0 L122.1,527.0 L121.8,527.0 L121.8,529.0 L121.3,529.0 L121.3,531.0 L120.9,531.0 L120.9,533.0 L120.5,533.0 L120.5,535.0 L120.0,535.0 L120.0,537.0 L119.6,537.0 L119.6,539.0 L119.1,539.0 L119.1,541.0 L118.7,541.0 L118.7,542.0 L113.0,551.0 L107.0,559.0 L97.0,568.0 L86.0,577.0 L76.0,584.0 L72.0,591.0 L218.0,591.0 L210.0,587.0 L197.0,582.0 L185.0,576.0 L177.0,569.0 L172.0,560.0 L169.0,550.0 L167.0,542.0 L167.0,541.0 L166.7,541.0 L166.7,539.0 L166.3,539.0 L166.3,537.0 L166.0,537.0 L166.0,535.0 L165.7,535.0 L165.7,533.0 L165.3,533.0 L165.3,531.0 L165.0,531.0 L165.0,529.0 L164.8,529.0 L164.8,527.0 L164.6,527.0 L164.6,525.0 L164.4,525.0 L164.4,523.0 L164.2,523.0 L164.2,521.0 L164.0,521.0 L164.0,519.0 L163.8,519.0 L163.8,517.0 L163.6,517.0 L163.6,515.0 L163.4,515.0 L163.4,513.0 L163.2,513.0 L163.2,511.0 L163.0,511.0 L163.0,509.0 L162.9,509.0 L162.9,507.0 L162.8,507.0 L162.8,505.0 L162.6,505.0 L162.6,503.0 L162.5,503.0 L162.5,501.0 L162.4,501.0 L162.4,499.0 L162.2,499.0 L162.2,497.0 L162.1,497.0 L162.1,495.0 L162.0,495.0 L162.0,493.0 L161.9,493.0 L161.9,491.0 L161.8,491.0 L161.8,489.0 L161.7,489.0 L161.7,487.0 L161.6,487.0 L161.6,485.0 L161.5,485.0 L161.5,483.0 L161.5,483.0 L161.5,481.0 L161.4,481.0 L161.4,479.0 L161.3,479.0 L161.3,477.0 L161.2,477.0 L161.2,475.0 L161.1,475.0 L161.1,473.0 L161.0,473.0 L161.0,471.0 L161.1,471.0 L161.1,469.0 L161.1,469.0 L161.1,467.0 L161.2,467.0 L161.2,465.0 L161.2,465.0 L161.2,463.0 L161.3,463.0 L161.3,461.0 L161.4,461.0 L161.4,459.0 L161.4,459.0 L161.4,457.0 L161.5,457.0 L161.5,455.0 L161.6,455.0 L161.6,453.0 L161.6,453.0 L161.6,451.0 L161.7,451.0 L161.7,449.0 L161.8,449.0 L161.8,447.0 L161.8,447.0 L161.8,445.0 L161.9,445.0 L161.9,443.0 L161.9,443.0 L161.9,441.0 L162.0,441.0 L162.0,439.0 L162.0,439.0 L162.0,437.0 L162.0,437.0 L162.0,435.0 L162.0,435.0 L162.0,433.0 L162.0,433.0 L162.0,431.0 L162.0,431.0 L162.0,429.0 L162.0,429.0 L162.0,427.0 L162.0,427.0 L162.0,425.0 L162.0,425.0 L162.0,423.0 L162.0,423.0 L162.0,421.0 L162.0,421.0 L162.0,419.0 L162.0,419.0 L162.0,417.0 L161.9,417.0 L161.9,415.0 L161.9,415.0 L161.9,413.0 L161.8,413.0 L161.8,411.0 L161.7,411.0 L161.7,409.0 L161.6,409.0 L161.6,407.0 L161.6,407.0 L161.6,405.0 L161.5,405.0 L161.5,403.0 L161.4,403.0 L161.4,401.0 L161.3,401.0 L161.3,399.0 L161.3,399.0 L161.3,397.0 L161.2,397.0 L161.2,395.0 L161.1,395.0 L161.1,393.0 L161.0,393.0 L161.0,391.0Z" fill="#478a44"/>
<g clip-path="url(#envb370)">
<path d="M135.0,391.0 L135.0,393.0 L134.9,393.0 L134.9,395.0 L134.8,395.0 L134.8,397.0 L134.7,397.0 L134.7,399.0 L134.7,399.0 L134.7,401.0 L134.6,401.0 L134.6,403.0 L134.5,403.0 L134.5,405.0 L134.4,405.0 L134.4,407.0 L134.4,407.0 L134.4,409.0 L134.3,409.0 L134.3,411.0 L134.2,411.0 L134.2,413.0 L134.1,413.0 L134.1,415.0 L134.1,415.0 L134.1,417.0 L134.0,417.0 L134.0,419.0 L133.8,419.0 L133.8,421.0 L133.6,421.0 L133.6,423.0 L133.4,423.0 L133.4,425.0 L133.2,425.0 L133.2,427.0 L133.0,427.0 L133.0,429.0 L132.8,429.0 L132.8,431.0 L132.6,431.0 L132.6,433.0 L132.4,433.0 L132.4,435.0 L132.2,435.0 L132.2,437.0 L132.0,437.0 L132.0,439.0 L131.8,439.0 L131.8,441.0 L131.6,441.0 L131.6,443.0 L131.4,443.0 L131.4,445.0 L131.2,445.0 L131.2,447.0 L131.0,447.0 L131.0,449.0 L130.8,449.0 L130.8,451.0 L130.6,451.0 L130.6,453.0 L130.3,453.0 L130.3,455.0 L130.1,455.0 L130.1,457.0 L129.8,457.0 L129.8,459.0 L129.5,459.0 L129.5,461.0 L129.2,461.0 L129.2,463.0 L129.0,463.0 L129.0,465.0 L128.7,465.0 L128.7,467.0 L128.4,467.0 L128.4,469.0 L128.2,469.0 L128.2,471.0 L127.9,471.0 L127.9,473.0 L127.6,473.0 L127.6,475.0 L127.3,475.0 L127.3,477.0 L127.1,477.0 L127.1,479.0 L126.8,479.0 L126.8,481.0 L126.5,481.0 L126.5,483.0 L126.3,483.0 L126.3,485.0 L126.1,485.0 L126.1,487.0 L125.9,487.0 L125.9,489.0 L125.7,489.0 L125.7,491.0 L125.5,491.0 L125.5,493.0 L125.3,493.0 L125.3,495.0 L125.1,495.0 L125.1,497.0 L124.9,497.0 L124.9,499.0 L124.7,499.0 L124.7,501.0 L124.5,501.0 L124.5,503.0 L124.3,503.0 L124.3,505.0 L124.1,505.0 L124.1,507.0 L123.9,507.0 L123.9,509.0 L123.7,509.0 L123.7,511.0 L123.5,511.0 L123.5,513.0 L123.3,513.0 L123.3,515.0 L123.1,515.0 L123.1,517.0 L122.9,517.0 L122.9,519.0 L122.7,519.0 L122.7,521.0 L122.5,521.0 L122.5,523.0 L122.3,523.0 L122.3,525.0 L122.1,525.0 L122.1,527.0 L121.8,527.0 L121.8,529.0 L121.3,529.0 L121.3,531.0 L120.9,531.0 L120.9,533.0 L120.5,533.0 L120.5,535.0 L120.0,535.0 L120.0,537.0 L119.6,537.0 L119.6,539.0 L119.1,539.0 L119.1,541.0 L118.7,541.0 L118.7,542.0 L113.0,551.0 L107.0,559.0 L97.0,568.0 L86.0,577.0 L76.0,584.0 L72.0,591.0 L218.0,591.0 L210.0,587.0 L197.0,582.0 L185.0,576.0 L177.0,569.0 L172.0,560.0 L169.0,550.0 L167.0,542.0 L167.0,541.0 L166.7,541.0 L166.7,539.0 L166.3,539.0 L166.3,537.0 L166.0,537.0 L166.0,535.0 L165.7,535.0 L165.7,533.0 L165.3,533.0 L165.3,531.0 L165.0,531.0 L165.0,529.0 L164.8,529.0 L164.8,527.0 L164.6,527.0 L164.6,525.0 L164.4,525.0 L164.4,523.0 L164.2,523.0 L164.2,521.0 L164.0,521.0 L164.0,519.0 L163.8,519.0 L163.8,517.0 L163.6,517.0 L163.6,515.0 L163.4,515.0 L163.4,513.0 L163.2,513.0 L163.2,511.0 L163.0,511.0 L163.0,509.0 L162.9,509.0 L162.9,507.0 L162.8,507.0 L162.8,505.0 L162.6,505.0 L162.6,503.0 L162.5,503.0 L162.5,501.0 L162.4,501.0 L162.4,499.0 L162.2,499.0 L162.2,497.0 L162.1,497.0 L162.1,495.0 L162.0,495.0 L162.0,493.0 L161.9,493.0 L161.9,491.0 L161.8,491.0 L161.8,489.0 L161.7,489.0 L161.7,487.0 L161.6,487.0 L161.6,485.0 L161.5,485.0 L161.5,483.0 L161.5,483.0 L161.5,481.0 L161.4,481.0 L161.4,479.0 L161.3,479.0 L161.3,477.0 L161.2,477.0 L161.2,475.0 L161.1,475.0 L161.1,473.0 L161.0,473.0 L161.0,471.0 L161.1,471.0 L161.1,469.0 L161.1,469.0 L161.1,467.0 L161.2,467.0 L161.2,465.0 L161.2,465.0 L161.2,463.0 L161.3,463.0 L161.3,461.0 L161.4,461.0 L161.4,459.0 L161.4,459.0 L161.4,457.0 L161.5,457.0 L161.5,455.0 L161.6,455.0 L161.6,453.0 L161.6,453.0 L161.6,451.0 L161.7,451.0 L161.7,449.0 L161.8,449.0 L161.8,447.0 L161.8,447.0 L161.8,445.0 L161.9,445.0 L161.9,443.0 L161.9,443.0 L161.9,441.0 L162.0,441.0 L162.0,439.0 L162.0,439.0 L162.0,437.0 L162.0,437.0 L162.0,435.0 L162.0,435.0 L162.0,433.0 L162.0,433.0 L162.0,431.0 L162.0,431.0 L162.0,429.0 L162.0,429.0 L162.0,427.0 L162.0,427.0 L162.0,425.0 L162.0,425.0 L162.0,423.0 L162.0,423.0 L162.0,421.0 L162.0,421.0 L162.0,419.0 L162.0,419.0 L162.0,417.0 L161.9,417.0 L161.9,415.0 L161.9,415.0 L161.9,413.0 L161.8,413.0 L161.8,411.0 L161.7,411.0 L161.7,409.0 L161.6,409.0 L161.6,407.0 L161.6,407.0 L161.6,405.0 L161.5,405.0 L161.5,403.0 L161.4,403.0 L161.4,401.0 L161.3,401.0 L161.3,399.0 L161.3,399.0 L161.3,397.0 L161.2,397.0 L161.2,395.0 L161.1,395.0 L161.1,393.0 L161.0,393.0 L161.0,391.0Z" fill="none" stroke="#5ea556" stroke-width="7" opacity="0.85"/>
<path d="M146.0,459.0h5.3v13.6h-5.3zM146.0,467.2h3.5v14.1h-3.5zM150.9,485.2h3.2v11.6h-3.2zM152.9,405.4h4.7v8.5h-4.7zM159.9,537.4h4.6v15.4h-4.6zM137.4,415.3h4.3v8.7h-4.3zM141.7,420.2h3.1v13.6h-3.1zM152.7,457.2h4.3v15.7h-4.3zM147.9,466.0h4.1v11.3h-4.1zM161.4,539.7h5.1v16.5h-5.1zM140.0,438.7h3.7v8.8h-3.7zM139.4,505.4h5.1v12.6h-5.1zM155.0,533.8h3.0v10.5h-3.0zM141.3,526.7h5.5v12.8h-5.5zM149.4,402.8h4.9v11.2h-4.9zM143.8,404.9h5.4v17.1h-5.4zM142.1,409.5h3.3v8.7h-3.3zM132.3,510.0h4.4v13.4h-4.4zM151.6,420.2h3.3v15.7h-3.3zM145.5,409.2h3.5v11.2h-3.5zM153.5,535.7h3.8v18.6h-3.8zM144.6,423.2h5.1v15.7h-5.1zM156.4,406.8h3.5v11.1h-3.5zM137.2,506.4h3.7v8.9h-3.7zM148.6,405.3h3.6v15.2h-3.6zM144.4,447.0h5.4v13.8h-5.4zM152.8,477.0h3.5v9.8h-3.5zM153.3,526.4h3.6v10.3h-3.6zM155.7,501.4h3.5v19.4h-3.5zM145.9,522.6h4.1v9.2h-4.1zM155.6,397.7h3.6v16.5h-3.6zM153.3,430.0h4.5v11.5h-4.5zM151.4,418.0h3.2v10.7h-3.2zM152.3,474.8h4.5v11.4h-4.5zM132.0,527.8h3.0v11.2h-3.0zM134.2,458.0h3.4v12.4h-3.4zM133.7,476.7h3.9v18.7h-3.9zM148.0,537.1h4.7v15.0h-4.7zM137.9,412.8h3.0v18.9h-3.0zM156.0,495.7h3.1v15.6h-3.1zM149.7,463.4h3.8v20.0h-3.8zM147.9,403.1h4.8v18.8h-4.8z" fill="#3f7e3d" opacity="0.8"/>
<path d="M109.8,568.6h2.6v2.8h-2.6zM134.6,456.6h2.9v3.0h-2.9zM137.6,524.2h2.6v5.5h-2.6zM150.5,424.0h2.7v6.2h-2.7zM153.9,469.9h2.9v10.0h-2.9zM155.1,418.7h2.8v9.3h-2.8zM148.9,510.7h2.6v4.1h-2.6zM129.0,471.5h2.3v3.8h-2.3zM139.2,470.3h1.7v4.7h-1.7zM97.0,571.8h2.7v2.6h-2.7zM137.6,544.0h2.2v1.7h-2.2zM158.1,458.7h2.9v7.0h-2.9zM137.4,470.5h2.8v6.2h-2.8zM151.8,566.7h2.7v1.7h-2.7zM160.2,414.1h2.0v6.6h-2.0zM128.5,473.1h2.9v5.1h-2.9zM140.7,510.9h2.1v5.3h-2.1zM161.7,544.4h2.8v1.9h-2.8zM124.7,555.0h2.8v3.0h-2.8zM130.0,483.8h2.9v6.8h-2.9zM161.4,518.8h2.8v10.0h-2.8zM159.7,533.0h2.1v6.8h-2.1zM130.8,500.8h2.5v6.0h-2.5zM136.1,415.7h2.3v3.9h-2.3zM143.6,562.3h2.2v1.9h-2.2z" fill="#63a75a" opacity="0.7"/>
<path d="M158.1,502.6h2.9v8.1h-2.9zM152.3,404.7h2.8v8.8h-2.8zM148.4,510.6h2.5v8.4h-2.5zM153.0,479.4h1.7v6.0h-1.7zM151.6,430.6h2.1v11.6h-2.1zM148.1,479.1h2.4v9.7h-2.4zM143.4,469.2h2.3v7.1h-2.3zM149.1,496.8h2.5v9.4h-2.5zM140.4,526.5h2.5v6.8h-2.5zM147.0,417.4h2.2v13.0h-2.2zM158.8,441.0h2.5v12.2h-2.5zM137.2,505.2h2.1v10.2h-2.1zM139.8,439.5h2.1v13.1h-2.1zM139.1,398.1h2.0v6.5h-2.0zM145.2,459.6h2.8v8.4h-2.8zM157.8,470.0h2.8v13.8h-2.8zM134.4,459.9h2.0v10.5h-2.0zM142.1,493.7h2.0v12.1h-2.0zM142.5,394.9h1.9v11.9h-1.9zM142.3,432.0h3.0v6.0h-3.0zM156.6,408.4h2.7v13.6h-2.7zM137.5,494.7h2.0v11.4h-2.0zM155.8,505.3h1.9v7.5h-1.9zM160.8,443.9h2.3v14.0h-2.3zM160.8,415.9h1.7v13.4h-1.7zM135.8,500.4h1.9v13.0h-1.9zM156.0,393.0h2.8v12.2h-2.8zM147.7,533.6h3.0v5.9h-3.0zM162.6,521.9h1.8v7.2h-1.8zM136.0,450.5h2.4v12.1h-2.4zM160.7,440.1h2.1v5.7h-2.1zM154.9,458.1h2.0v13.3h-2.0zM136.6,424.7h1.6v9.8h-1.6zM136.2,495.0h3.0v13.1h-3.0zM159.1,469.7h2.9v9.4h-2.9zM127.0,534.4h2.2v10.0h-2.2zM156.1,516.7h2.3v12.6h-2.3zM143.2,476.0h2.9v12.8h-2.9zM143.4,483.4h3.0v9.7h-3.0zM137.0,477.9h1.8v5.0h-1.8zM140.3,559.7h2.6v1.9h-2.6zM171.4,567.6h2.8v1.1h-2.8zM161.6,549.8h3.6v1.9h-3.6zM126.3,579.6h3.1v1.5h-3.1zM161.7,558.0h4.8v1.9h-4.8zM108.2,566.7h3.5v1.0h-3.5zM150.3,554.2h4.9v1.0h-4.9zM116.6,549.3h3.2v1.7h-3.2zM139.5,553.5h3.7v1.6h-3.7zM150.8,582.0h4.3v1.7h-4.3zM81.7,583.3h4.1v1.8h-4.1zM138.4,570.9h4.7v1.5h-4.7zM125.2,552.3h3.9v1.6h-3.9zM160.5,548.4h4.1v1.3h-4.1zM145.4,550.5h4.7v1.2h-4.7zM105.3,578.6h2.7v1.9h-2.7zM121.0,548.2h3.5v1.4h-3.5zM145.9,586.2h4.3v1.2h-4.3zM159.5,571.5h2.7v1.6h-2.7zM157.2,558.8h3.4v1.7h-3.4zM122.5,571.8h5.0v1.8h-5.0zM134.4,579.7h2.6v1.8h-2.6zM167.5,570.8h3.7v1.2h-3.7zM125.4,547.4h2.9v1.3h-2.9zM142.1,573.6h2.8v1.7h-2.8zM122.8,545.6h3.5v1.4h-3.5zM121.5,558.7h3.4v1.6h-3.4zM128.3,543.9h3.5v1.4h-3.5zM163.2,559.4h4.0v1.1h-4.0zM118.0,579.2h2.7v1.8h-2.7zM185.3,583.2h4.8v1.6h-4.8zM144.4,551.0h3.4v1.8h-3.4zM118.3,555.1h4.4v1.2h-4.4zM93.7,585.9h3.3v1.5h-3.3zM134.1,559.4h3.0v1.2h-3.0zM155.1,550.7h3.3v1.1h-3.3zM196.4,583.7h4.8v1.0h-4.8zM164.4,554.8h3.2v1.2h-3.2zM117.9,561.1h2.7v1.5h-2.7zM116.6,565.4h2.8v1.4h-2.8zM106.4,569.0h2.8v1.2h-2.8zM137.5,562.9h4.4v1.6h-4.4zM131.4,542.5h3.2v1.3h-3.2zM129.8,567.4h3.8v1.8h-3.8zM138.4,546.7h4.1v1.5h-4.1zM174.2,573.4h3.5v1.9h-3.5zM166.3,560.1h4.6v1.5h-4.6zM129.9,570.0h3.7v1.3h-3.7zM126.2,560.7h3.8v1.5h-3.8zM162.6,554.7h4.2v1.7h-4.2zM153.4,543.3h4.0v1.6h-4.0zM149.1,561.2h2.6v1.3h-2.6zM142.8,560.7h4.3v1.3h-4.3zM107.6,579.5h4.3v1.3h-4.3zM91.7,577.5h2.7v1.8h-2.7zM95.3,584.7h4.9v1.2h-4.9zM94.7,575.2h3.5v1.1h-3.5zM120.9,582.5h2.9v1.4h-2.9zM136.6,548.6h4.0v1.6h-4.0zM123.3,574.1h4.4v1.8h-4.4zM130.5,548.4h2.8v1.5h-2.8zM123.1,565.6h3.8v1.8h-3.8zM145.2,554.9h4.3v1.7h-4.3zM129.0,550.9h3.1v2.0h-3.1zM147.0,565.6h3.0v1.7h-3.0zM95.4,571.5h3.1v1.0h-3.1zM129.3,543.8h3.2v1.8h-3.2zM97.3,584.9h3.1v2.0h-3.1zM126.7,564.7h3.3v1.5h-3.3zM158.3,548.3h4.5v1.4h-4.5zM172.9,580.6h4.4v1.4h-4.4zM125.1,577.1h2.9v1.2h-2.9zM147.3,581.3h3.2v1.8h-3.2zM102.4,580.8h4.1v1.6h-4.1zM125.3,563.7h3.9v1.4h-3.9zM159.0,568.7h3.7v1.8h-3.7zM133.7,542.4h4.8v1.6h-4.8zM134.7,574.7h4.4v1.3h-4.4zM104.6,583.4h4.1v1.3h-4.1zM117.0,584.6h3.6v1.6h-3.6zM161.2,584.4h3.2v1.5h-3.2zM136.7,588.6h3.1v2.0h-3.1zM136.7,576.3h2.7v1.8h-2.7zM149.3,543.1h4.0v1.8h-4.0zM123.0,576.7h3.5v1.2h-3.5zM110.5,569.8h2.7v1.5h-2.7zM172.2,582.2h3.1v1.1h-3.1zM130.4,549.5h2.6v1.8h-2.6zM142.6,561.9h3.3v1.5h-3.3zM125.7,557.7h2.8v1.3h-2.8zM148.3,543.2h2.7v1.8h-2.7zM150.8,561.8h3.7v1.9h-3.7zM136.2,557.9h3.4v1.8h-3.4zM117.8,557.6h3.7v1.8h-3.7zM146.6,545.4h2.6v1.8h-2.6zM122.0,588.3h2.5v1.4h-2.5zM139.4,546.2h3.9v1.0h-3.9zM109.6,559.0h2.8v1.9h-2.8zM107.7,585.0h2.9v1.6h-2.9zM119.5,574.2h3.5v1.5h-3.5zM160.3,554.9h3.7v1.7h-3.7zM119.7,556.3h4.8v1.9h-4.8zM89.1,577.4h3.7v1.8h-3.7zM121.9,556.7h3.4v1.6h-3.4zM133.1,570.2h3.8v1.4h-3.8zM126.4,584.0h4.8v1.9h-4.8zM171.1,571.5h3.9v1.9h-3.9zM130.0,564.8h4.9v1.7h-4.9zM95.4,578.3h4.7v1.4h-4.7zM121.0,552.2h4.5v2.0h-4.5zM164.4,579.4h4.5v1.1h-4.5zM188.5,585.4h4.7v1.9h-4.7zM120.5,563.2h3.6v1.9h-3.6zM154.6,561.5h2.9v1.9h-2.9zM97.5,580.1h4.4v1.6h-4.4zM104.7,566.2h3.9v1.2h-3.9zM161.2,551.6h2.9v1.1h-2.9zM145.1,558.5h3.8v1.9h-3.8zM98.3,574.6h4.4v1.5h-4.4zM102.8,565.8h3.0v1.2h-3.0zM159.7,574.1h3.6v1.0h-3.6zM137.2,561.4h4.9v2.0h-4.9zM133.5,556.9h3.9v2.0h-3.9zM98.2,573.4h2.7v1.1h-2.7zM150.3,573.4h4.4v1.8h-4.4zM138.2,547.7h4.7v1.7h-4.7zM122.8,564.3h2.8v1.8h-2.8zM176.0,582.2h4.3v1.9h-4.3zM146.7,549.2h4.8v1.7h-4.8zM173.9,586.8h3.9v1.1h-3.9zM134.0,550.9h2.8v1.3h-2.8zM137.6,554.9h4.1v1.4h-4.1zM114.0,560.0h4.1v1.1h-4.1zM109.2,571.6h3.0v1.0h-3.0zM150.4,563.8h2.8v1.0h-2.8zM133.3,588.4h4.4v1.3h-4.4zM182.5,580.7h2.8v1.2h-2.8zM149.8,549.0h3.7v1.9h-3.7zM153.6,571.3h4.0v1.3h-4.0zM110.1,579.1h5.0v1.5h-5.0zM122.7,554.3h3.3v1.4h-3.3zM113.9,568.2h3.3v1.3h-3.3zM150.9,546.8h3.1v1.5h-3.1zM124.2,556.0h4.0v1.5h-4.0zM112.7,569.0h4.8v2.0h-4.8zM174.3,575.2h3.9v1.0h-3.9zM158.7,573.0h2.8v1.5h-2.8zM127.0,561.6h2.7v1.9h-2.7zM160.0,554.5h3.6v1.7h-3.6zM143.3,553.2h3.9v1.1h-3.9z" fill="#2b5f2c" opacity="0.75"/>
<path d="M89.3,577.0h1.5v1.5h-1.5zM137.5,552.6h1.5v1.5h-1.5zM139.8,564.8h1.5v1.5h-1.5zM151.6,551.2h1.5v1.5h-1.5zM128.8,555.2h1.5v1.5h-1.5zM124.1,565.0h1.5v1.5h-1.5zM116.7,559.3h1.5v1.5h-1.5zM166.6,579.2h1.5v1.5h-1.5zM102.4,583.7h1.5v1.5h-1.5zM161.4,582.8h1.5v1.5h-1.5zM132.3,547.6h1.5v1.5h-1.5zM186.1,582.8h1.5v1.5h-1.5zM148.9,545.7h1.5v1.5h-1.5zM141.8,575.7h1.5v1.5h-1.5zM115.9,568.5h1.5v1.5h-1.5zM205.3,586.8h1.5v1.5h-1.5zM118.7,573.6h1.5v1.5h-1.5zM189.6,581.0h1.5v1.5h-1.5zM135.0,557.1h1.5v1.5h-1.5zM118.6,583.7h1.5v1.5h-1.5zM179.6,587.1h1.5v1.5h-1.5zM115.0,563.3h1.5v1.5h-1.5zM93.0,582.9h1.5v1.5h-1.5zM114.3,575.4h1.5v1.5h-1.5zM136.5,576.7h1.5v1.5h-1.5zM125.6,558.0h1.5v1.5h-1.5zM140.2,580.4h1.5v1.5h-1.5zM142.2,550.1h1.5v1.5h-1.5zM196.7,588.0h1.5v1.5h-1.5zM125.3,552.9h1.5v1.5h-1.5zM151.2,441.9h1.5v2h-1.5zM132.2,471.6h1.5v2h-1.5zM128.1,512.5h1.5v2h-1.5zM125.8,511.7h1.5v2h-1.5zM145.1,482.8h1.5v2h-1.5zM146.7,468.1h1.5v2h-1.5zM159.5,444.8h1.5v2h-1.5zM137.9,447.1h1.5v2h-1.5z" fill="#102412" opacity="0.8"/>
</g>
<path d="M165.0,509.0 L168.5,509.0 L170.5,511.0 L173.5,514.0 L173.5,520.0 L172.0,523.0 L170.5,528.0 L165.0,528.0Z" fill="#6aac5f" />
<rect x="117.5" y="453" width="2.5" height="4" fill="#a3d394"/>
<rect x="177" y="514.5" width="2" height="3.5" fill="#7cbf6f"/>
<rect x="94" y="529" width="3" height="3" fill="#d3ebc9"/>
<rect x="90" y="540" width="3" height="3" fill="#d3ebc9"/>
</g>
<rect x="54.2" y="416.50" width="7.6" height="12.00" fill="#171e19"/>
<rect x="54.2" y="428.20" width="7.6" height="12.00" fill="#223726"/>
<rect x="54.2" y="439.90" width="7.6" height="12.00" fill="#2e5233"/>
<rect x="54.2" y="451.60" width="7.6" height="12.00" fill="#3e7043"/>
<rect x="54.2" y="463.30" width="7.6" height="12.00" fill="#4f8d4d"/>
<rect x="54.2" y="475.00" width="7.6" height="12.00" fill="#63a35a"/>
<rect x="54.2" y="486.70" width="7.6" height="12.00" fill="#7bb570"/>
<rect x="54.2" y="498.40" width="7.6" height="12.00" fill="#9ac88e"/>
<rect x="54.2" y="510.10" width="7.6" height="12.00" fill="#bfdcb4"/>
<rect x="54.2" y="521.80" width="7.6" height="12.00" fill="#e9f4e4"/>
<rect x="54.2" y="416.50" width="7.6" height="117.00" fill="none" stroke="#3a3a3a" stroke-width="0.9"/>
<path d="M61.8,428.2h-2M61.8,439.9h-2M61.8,451.6h-2M61.8,463.3h-2M61.8,475.0h-2M61.8,486.7h-2M61.8,498.4h-2M61.8,510.1h-2M61.8,521.8h-2" stroke="#333" stroke-width="0.8" opacity="0.6"/>
<text x="64.6" y="419.9" font-size="10.6" text-anchor="start" style="stroke:#111;stroke-width:0.35;" >2.0</text>
<text x="64.6" y="431.6" font-size="10.6" text-anchor="start" style="stroke:#111;stroke-width:0.35;" >1.5</text>
<text x="64.6" y="443.3" font-size="10.6" text-anchor="start" style="stroke:#111;stroke-width:0.35;" >1.0</text>
<text x="64.6" y="455.0" font-size="10.6" text-anchor="start" style="stroke:#111;stroke-width:0.35;" >0.5</text>
<text x="64.6" y="466.7" font-size="10.6" text-anchor="start" style="stroke:#111;stroke-width:0.35;" >0.0</text>
<text x="64.6" y="478.4" font-size="10.6" text-anchor="start" style="stroke:#111;stroke-width:0.35;" >−0.5</text>
<text x="64.6" y="490.1" font-size="10.6" text-anchor="start" style="stroke:#111;stroke-width:0.35;" >−1.0</text>
<text x="64.6" y="501.8" font-size="10.6" text-anchor="start" style="stroke:#111;stroke-width:0.35;" >−1.5</text>
<text x="64.6" y="513.5" font-size="10.6" text-anchor="start" style="stroke:#111;stroke-width:0.35;" >−2.0</text>
<text x="64.6" y="525.2" font-size="10.6" text-anchor="start" style="stroke:#111;stroke-width:0.35;" >−2.5</text>
<text x="64.6" y="536.9" font-size="10.6" text-anchor="start" style="stroke:#111;stroke-width:0.35;" >−3.0</text>
<text x="52.2" y="405.8" font-size="11.3" text-anchor="start" style="stroke:#111;stroke-width:0.35;" >logΨ</text>
<g clip-path="url(#clipright370)">
<path d="M339.6,391.5 L338.1,404.3 L333.1,414.7 L334.6,429.6 L334.3,438.5 L331.6,446.0 L333.0,453.3 L332.8,474.0 L331.6,488.9 L329.2,500.8 L324.8,509.7 L320.9,518.6 L320.3,524.6 L315.8,530.5 L311.4,535.0 L309.9,542.4 L305.4,545.4 L301.0,552.8 L293.5,560.2 L289.0,563.2 L280.3,568.0 L274.6,571.4 L270.0,572.6 L271.1,574.3 L268.9,576.0 L267.1,577.7 L255.1,579.1 L267.1,579.4 L268.3,581.1 L270.0,582.9 L267.1,584.0 L257.4,585.7 L267.1,586.3 L269.4,586.9 L275.0,587.5 L277.0,589.5 L268.0,589.6 L265.0,590.5 L266.0,590.9 L288.9,590.9 L326.0,591.2 L347.0,592.0" fill="none" stroke="#1a1a1a" stroke-width="1.0" stroke-linejoin="round" />
<path d="M269,587.0 L275.5,586.8 L277.5,589.6 L268.5,589.8z" fill="#111"/>
</g>
<g clip-path="url(#clipflux370)">
<path d="M46.0,692.8 L63.0,692.0 L83.0,690.9 L94.6,688.6 L103.0,687.1 L107.4,684.3 L111.7,680.0 L114.0,678.6 L116.0,680.6 L118.9,671.4 L120.3,663.6 L124.6,659.3 L128.9,647.9 L133.1,635.0 L137.4,620.7 L138.3,615.0 L139.4,615.6 L141.1,603.6 L142.3,603.0 L144.6,606.4 L147.4,607.9 L150.3,610.7 L152.3,615.0 L154.6,612.1 L156.0,617.9 L158.3,626.4 L160.3,640.7 L162.6,657.9 L165.1,672.1 L168.9,682.1 L176.0,687.9 L187.4,690.7 L200.0,692.0 L246.0,692.6" fill="none" stroke="#1a1a1a" stroke-width="1.0" stroke-linejoin="round" />
</g>
<line x1="146.5" y1="592.5" x2="146.5" y2="692.8" stroke="#333" stroke-width="0.8" stroke-dasharray="1.1,1.7"/>
<path d="M46.0,390.9V693.4000000000001M246.7,390.9V693.4000000000001M347.6,390.9V593.1" stroke="#6e6e6e" stroke-width="1.7" fill="none"/>
<path d="M45.2,391.4H348.4M45.2,592.4H348.4M45.2,692.8H247.5" stroke="#484848" stroke-width="1.3" fill="none"/>
<path d="M62.5,391.5v3 M62.5,592.5v-3 M62.5,592.5v3 M62.5,692.8v-3 M90.5,391.5v3 M90.5,592.5v-3 M90.5,592.5v3 M90.5,692.8v-3 M118.5,391.5v3 M118.5,592.5v-3 M118.5,592.5v3 M118.5,692.8v-3 M146.5,391.5v3 M146.5,592.5v-3 M146.5,592.5v3 M146.5,692.8v-3 M174.5,391.5v3 M174.5,592.5v-3 M174.5,592.5v3 M174.5,692.8v-3 M202.5,391.5v3 M202.5,592.5v-3 M202.5,592.5v3 M202.5,692.8v-3 M230.5,391.5v3 M230.5,592.5v-3 M230.5,592.5v3 M230.5,692.8v-3 M46.5,592.5h2.5 M246.5,592.5h-2.5 M246.5,592.5h2.5 M347.5,592.5h-2.5 M46.5,565.8h2.5 M246.5,565.8h-2.5 M246.5,565.8h2.5 M347.5,565.8h-2.5 M46.5,539.1h2.5 M246.5,539.1h-2.5 M246.5,539.1h2.5 M347.5,539.1h-2.5 M46.5,512.3h2.5 M246.5,512.3h-2.5 M246.5,512.3h2.5 M347.5,512.3h-2.5 M46.5,485.6h2.5 M246.5,485.6h-2.5 M246.5,485.6h2.5 M347.5,485.6h-2.5 M46.5,458.9h2.5 M246.5,458.9h-2.5 M246.5,458.9h2.5 M347.5,458.9h-2.5 M46.5,432.2h2.5 M246.5,432.2h-2.5 M246.5,432.2h2.5 M347.5,432.2h-2.5 M46.5,405.5h2.5 M246.5,405.5h-2.5 M246.5,405.5h2.5 M347.5,405.5h-2.5 M46.5,692.6h2.5 M246.5,692.6h-2.5 M46.5,675.2h2.5 M246.5,675.2h-2.5 M46.5,657.8h2.5 M246.5,657.8h-2.5 M46.5,640.4h2.5 M246.5,640.4h-2.5 M46.5,623.0h2.5 M246.5,623.0h-2.5 M46.5,605.6h2.5 M246.5,605.6h-2.5 M326.8,391.5v3 M326.8,592.5v-3 M306.4,391.5v3 M306.4,592.5v-3 M286.0,391.5v3 M286.0,592.5v-3 M265.6,391.5v3 M265.6,592.5v-3" stroke="#777" stroke-width="0.9" fill="none"/>
<text x="42.6" y="595.5" font-size="11.2" text-anchor="end" style="stroke:#111;stroke-width:0.35;" >0</text>
<text x="42.6" y="568.8" font-size="11.2" text-anchor="end" style="stroke:#111;stroke-width:0.35;" >2</text>
<text x="42.6" y="542.1" font-size="11.2" text-anchor="end" style="stroke:#111;stroke-width:0.35;" >4</text>
<text x="42.6" y="515.3" font-size="11.2" text-anchor="end" style="stroke:#111;stroke-width:0.35;" >6</text>
<text x="42.6" y="488.6" font-size="11.2" text-anchor="end" style="stroke:#111;stroke-width:0.35;" >8</text>
<text x="42.6" y="461.9" font-size="11.2" text-anchor="end" style="stroke:#111;stroke-width:0.35;" >10</text>
<text x="42.6" y="435.2" font-size="11.2" text-anchor="end" style="stroke:#111;stroke-width:0.35;" >12</text>
<text x="42.6" y="408.5" font-size="11.2" text-anchor="end" style="stroke:#111;stroke-width:0.35;" >14</text>
<text x="42.6" y="695.6" font-size="11.2" text-anchor="end" style="stroke:#111;stroke-width:0.35;" >0.0</text>
<text x="42.6" y="678.2" font-size="11.2" text-anchor="end" style="stroke:#111;stroke-width:0.35;" >10.0</text>
<text x="42.6" y="660.8" font-size="11.2" text-anchor="end" style="stroke:#111;stroke-width:0.35;" >20.0</text>
<text x="42.6" y="643.4" font-size="11.2" text-anchor="end" style="stroke:#111;stroke-width:0.35;" >30.0</text>
<text x="42.6" y="626.0" font-size="11.2" text-anchor="end" style="stroke:#111;stroke-width:0.35;" >40.0</text>
<text x="42.6" y="608.6" font-size="11.2" text-anchor="end" style="stroke:#111;stroke-width:0.35;" >50.0</text>
<text x="62.2" y="704.1" font-size="11.2" text-anchor="middle" style="stroke:#111;stroke-width:0.35;" >−30</text>
<text x="90.2" y="704.1" font-size="11.2" text-anchor="middle" style="stroke:#111;stroke-width:0.35;" >−20</text>
<text x="118.2" y="704.1" font-size="11.2" text-anchor="middle" style="stroke:#111;stroke-width:0.35;" >−10</text>
<text x="146.5" y="704.1" font-size="11.2" text-anchor="middle" style="stroke:#111;stroke-width:0.35;" >0</text>
<text x="174.5" y="704.1" font-size="11.2" text-anchor="middle" style="stroke:#111;stroke-width:0.35;" >10</text>
<text x="202.5" y="704.1" font-size="11.2" text-anchor="middle" style="stroke:#111;stroke-width:0.35;" >20</text>
<text x="230.5" y="704.1" font-size="11.2" text-anchor="middle" style="stroke:#111;stroke-width:0.35;" >30</text>
<text transform="translate(349.8,604.8) rotate(-90)" font-size="11.2" text-anchor="middle" style="stroke:#111;stroke-width:0.35;">0.0</text>
<text transform="translate(329.4,604.8) rotate(-90)" font-size="11.2" text-anchor="middle" style="stroke:#111;stroke-width:0.35;">0.1</text>
<text transform="translate(309.0,604.8) rotate(-90)" font-size="11.2" text-anchor="middle" style="stroke:#111;stroke-width:0.35;">0.2</text>
<text transform="translate(288.6,604.8) rotate(-90)" font-size="11.2" text-anchor="middle" style="stroke:#111;stroke-width:0.35;">0.3</text>
<text transform="translate(268.2,604.8) rotate(-90)" font-size="11.2" text-anchor="middle" style="stroke:#111;stroke-width:0.35;">0.4</text>
<text transform="translate(23.2,491.7) rotate(-90)" font-size="14.6" text-anchor="middle" style="stroke:#111;stroke-width:0.45;"><tspan style="font-style:italic">τ</tspan> [days]</text>
<text transform="translate(12.5,643.2) rotate(-90)" font-size="13.9" text-anchor="middle" style="stroke:#111;stroke-width:0.35;">Normalized Flux</text>
<text x="297" y="627.3" font-size="13.8" text-anchor="middle" style="stroke:#111;stroke-width:0.35;">Ψ(<tspan style="font-style:italic">τ</tspan>)</text>
<text x="147.3" y="729.2" font-size="13.6" text-anchor="middle" style="stroke:#111;stroke-width:0.35;">velocity [10<tspan dy="-5" font-size="9">3</tspan><tspan dy="5"> km s</tspan><tspan dy="-5" font-size="9">−1</tspan><tspan dy="5"> ]</tspan></text>
<text x="63.5" y="387.5" font-size="13.8" text-anchor="start" style="stroke:#111;stroke-width:0.35;font-style:italic;" >A</text>
<text x="72.6" y="387.5" font-size="13.8" text-anchor="start" style="stroke:#111;stroke-width:0.35;" >(</text>
<text x="76.2" y="387.5" font-size="13.8" text-anchor="start" style="stroke:#111;stroke-width:0.35;font-style:italic;" >r</text>
<text x="82.2" y="387.5" font-size="13.8" text-anchor="start" style="stroke:#111;stroke-width:0.35;" >)</text>
<text x="88.8" y="387.5" font-size="13.8" text-anchor="start" style="stroke:#111;stroke-width:0.35;" >=</text>
<text x="97.0" y="387.5" font-size="13.8" text-anchor="start" style="stroke:#111;stroke-width:0.35;font-style:italic;" >A</text>
<text x="106.6" y="389.7" font-size="9.8" text-anchor="start" style="stroke:#111;stroke-width:0.35;" >0</text>
<text x="113.6" y="387.5" font-size="13.8" text-anchor="start" style="stroke:#111;stroke-width:0.35;" >(</text>
<text x="118.2" y="387.5" font-size="13.8" text-anchor="start" style="stroke:#111;stroke-width:0.35;font-style:italic;" >r</text>
<text x="123.4" y="387.5" font-size="13.8" text-anchor="start" style="stroke:#111;stroke-width:0.35;" >/</text>
<text x="127.2" y="387.5" font-size="13.8" text-anchor="start" style="stroke:#111;stroke-width:0.35;font-style:italic;" >r</text>
<text x="132.6" y="389.7" font-size="9.8" text-anchor="start" style="stroke:#111;stroke-width:0.35;" >1</text>
<text x="139.4" y="387.5" font-size="13.8" text-anchor="start" style="stroke:#111;stroke-width:0.35;" >)</text>
<text x="143.2" y="381.3" font-size="9.8" text-anchor="start" style="stroke:#111;stroke-width:0.35;" >2</text>
<text x="165.0" y="387.5" font-size="13.8" text-anchor="start" style="stroke:#111;stroke-width:0.35;font-style:italic;" >i</text>
<text x="171.2" y="387.5" font-size="13.8" text-anchor="start" style="stroke:#111;stroke-width:0.35;" >=</text>
<text x="179.6" y="387.5" font-size="13.8" text-anchor="start" style="stroke:#111;stroke-width:0.35;" >45.0°</text>
<text x="224.0" y="387.5" font-size="13.8" text-anchor="start" style="stroke:#111;stroke-width:0.35;font-style:italic;" >θ</text>
<text x="232.2" y="387.5" font-size="13.8" text-anchor="start" style="stroke:#111;stroke-width:0.35;" >=</text>
<text x="242.0" y="387.5" font-size="13.8" text-anchor="start" style="stroke:#111;stroke-width:0.35;" >8.2°</text>
<text x="268.6" y="387.5" font-size="13.8" text-anchor="start" style="stroke:#111;stroke-width:0.35;" >−</text>
<text x="281.0" y="387.5" font-size="13.8" text-anchor="start" style="stroke:#111;stroke-width:0.35;" >90.0°</text>
</svg>
</body></html>
